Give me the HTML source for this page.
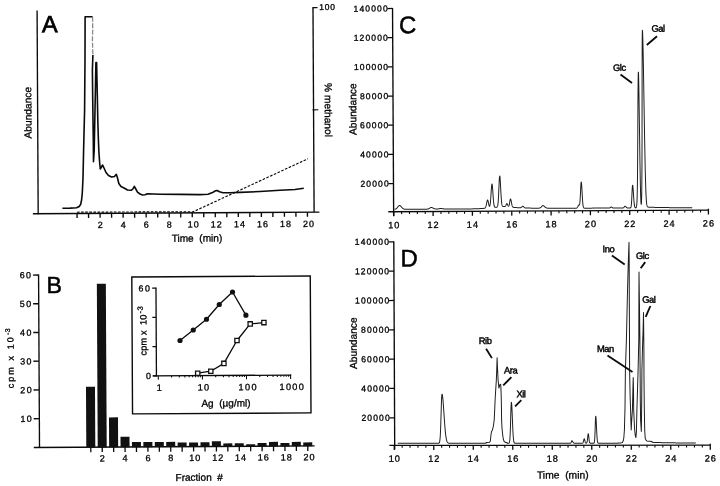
<!DOCTYPE html>
<html><head><meta charset="utf-8"><style>
html,body{margin:0;padding:0;background:#fff;overflow:hidden;}
svg{display:block;will-change:transform;}
text{font-family:"Liberation Sans",sans-serif;fill:#000;stroke:#000;}
</style></head><body>
<svg width="720" height="486" viewBox="0 0 720 486">
<rect width="720" height="486" fill="#fff"/>
<g transform="rotate(-0.31 360 243)">
<line x1="38.35" y1="8.76" x2="38.35" y2="212.55" stroke="#0a0a0a" stroke-width="1.35" />
<line x1="33.06" y1="211.95" x2="319.57" y2="211.95" stroke="#0a0a0a" stroke-width="1.35" />
<line x1="314.27" y1="7.15" x2="314.27" y2="211.95" stroke="#0a0a0a" stroke-width="1.35" />
<line x1="313.77" y1="7.35" x2="318.77" y2="7.35" stroke="#0a0a0a" stroke-width="1.2" />
<line x1="313.27" y1="109.55" x2="319.07" y2="109.55" stroke="#0a0a0a" stroke-width="1.2" />
<line x1="77.20" y1="211.95" x2="77.20" y2="216.45" stroke="#0a0a0a" stroke-width="1.35" />
<line x1="88.72" y1="211.95" x2="88.72" y2="216.45" stroke="#0a0a0a" stroke-width="1.35" />
<line x1="100.24" y1="211.95" x2="100.24" y2="216.45" stroke="#0a0a0a" stroke-width="1.35" />
<line x1="111.76" y1="211.95" x2="111.76" y2="216.45" stroke="#0a0a0a" stroke-width="1.35" />
<line x1="123.28" y1="211.95" x2="123.28" y2="216.45" stroke="#0a0a0a" stroke-width="1.35" />
<line x1="134.80" y1="211.95" x2="134.80" y2="216.45" stroke="#0a0a0a" stroke-width="1.35" />
<line x1="146.32" y1="211.95" x2="146.32" y2="216.45" stroke="#0a0a0a" stroke-width="1.35" />
<line x1="157.84" y1="211.95" x2="157.84" y2="216.45" stroke="#0a0a0a" stroke-width="1.35" />
<line x1="169.36" y1="211.95" x2="169.36" y2="216.45" stroke="#0a0a0a" stroke-width="1.35" />
<line x1="180.88" y1="211.95" x2="180.88" y2="216.45" stroke="#0a0a0a" stroke-width="1.35" />
<line x1="192.40" y1="211.95" x2="192.40" y2="216.45" stroke="#0a0a0a" stroke-width="1.35" />
<line x1="203.92" y1="211.95" x2="203.92" y2="216.45" stroke="#0a0a0a" stroke-width="1.35" />
<line x1="215.44" y1="211.95" x2="215.44" y2="216.45" stroke="#0a0a0a" stroke-width="1.35" />
<line x1="226.96" y1="211.95" x2="226.96" y2="216.45" stroke="#0a0a0a" stroke-width="1.35" />
<line x1="238.48" y1="211.95" x2="238.48" y2="216.45" stroke="#0a0a0a" stroke-width="1.35" />
<line x1="250.00" y1="211.95" x2="250.00" y2="216.45" stroke="#0a0a0a" stroke-width="1.35" />
<line x1="261.52" y1="211.95" x2="261.52" y2="216.45" stroke="#0a0a0a" stroke-width="1.35" />
<line x1="273.04" y1="211.95" x2="273.04" y2="216.45" stroke="#0a0a0a" stroke-width="1.35" />
<line x1="284.56" y1="211.95" x2="284.56" y2="216.45" stroke="#0a0a0a" stroke-width="1.35" />
<line x1="296.08" y1="211.95" x2="296.08" y2="216.45" stroke="#0a0a0a" stroke-width="1.35" />
<line x1="307.60" y1="211.95" x2="307.60" y2="216.45" stroke="#0a0a0a" stroke-width="1.35" />
<text x="100.74" y="226.65" font-size="9.0" text-anchor="middle" letter-spacing="1.0" stroke-width="0.3" >2</text>
<text x="123.78" y="226.65" font-size="9.0" text-anchor="middle" letter-spacing="1.0" stroke-width="0.3" >4</text>
<text x="146.82" y="226.65" font-size="9.0" text-anchor="middle" letter-spacing="1.0" stroke-width="0.3" >6</text>
<text x="169.86" y="226.65" font-size="9.0" text-anchor="middle" letter-spacing="1.0" stroke-width="0.3" >8</text>
<text x="193.90" y="226.65" font-size="9.0" text-anchor="middle" letter-spacing="1.0" stroke-width="0.3" >10</text>
<text x="216.94" y="226.65" font-size="9.0" text-anchor="middle" letter-spacing="1.0" stroke-width="0.3" >12</text>
<text x="239.98" y="226.65" font-size="9.0" text-anchor="middle" letter-spacing="1.0" stroke-width="0.3" >14</text>
<text x="263.02" y="226.65" font-size="9.0" text-anchor="middle" letter-spacing="1.0" stroke-width="0.3" >16</text>
<text x="286.06" y="226.65" font-size="9.0" text-anchor="middle" letter-spacing="1.0" stroke-width="0.3" >18</text>
<text x="309.10" y="226.65" font-size="9.0" text-anchor="middle" letter-spacing="1.0" stroke-width="0.3" >20</text>
<text x="197.03" y="240.75" font-size="10.1" text-anchor="middle" stroke-width="0.3" >Time&#160;&#160;(min)</text>
<text x="328.66" y="9.73" font-size="8.5" text-anchor="middle" letter-spacing="0.75" stroke-width="0.3" >100</text>
<text transform="translate(32.11,110.92) rotate(-90)" font-size="10.2" text-anchor="middle" stroke-width="0.3">Abundance</text>
<text transform="translate(325.52,109.81) rotate(90)" font-size="10.2" text-anchor="middle" stroke-width="0.3">%&#160;methanol</text>
<text x="43.05" y="30.48" font-size="23.5" text-anchor="start" stroke-width="0.75" >A</text>
<path d="M77.17,210.67 L193.47,210.80 L308.46,158.42" fill="none" stroke="#0a0a0a" stroke-width="1.15" stroke-linejoin="round" stroke-dasharray="2.6,1.5"/>
<path d="M62.59,206.59 L70.19,206.53 L76.79,206.27 L79.40,204.98 L80.81,202.99 L81.84,198.49 L82.57,191.50 L83.36,176.50 L84.11,148.51 L85.32,108.51 L85.99,58.51 L86.33,15.32 L93.83,15.36" fill="none" stroke="#0a0a0a" stroke-width="1.6" stroke-linejoin="round" />
<path d="M93.83,15.36 L93.86,28.56 L93.50,38.56 L93.92,53.56" fill="none" stroke="#8a8a8a" stroke-width="1.3" stroke-linejoin="round" stroke-dasharray="5,1.5"/>
<path d="M93.92,53.56 L93.34,68.55 L93.43,88.56 L93.67,118.56 L93.86,138.56 L93.94,160.26 L94.71,148.56 L95.47,118.57 L96.23,88.57 L96.88,61.07 L97.58,61.08 L98.10,93.58 L98.47,118.58 L98.96,138.59 L99.40,150.59 L100.04,160.59 L100.70,167.60 L101.91,165.60 L103.03,163.61 L104.41,166.62 L106.39,171.13 L108.87,174.14 L111.86,175.66 L114.86,175.17 L116.68,172.98 L117.86,176.69 L119.13,182.20 L121.31,185.21 L124.30,186.72 L127.79,188.74 L131.79,188.96 L133.50,187.27 L134.61,185.08 L135.80,187.29 L137.78,191.00 L140.27,192.81 L142.76,193.82 L145.26,193.64 L147.77,192.65 L160.27,193.12 L180.27,193.43 L200.26,193.74 L208.27,193.38 L212.77,191.80 L215.78,190.02 L217.49,189.73 L219.78,191.04 L223.27,191.96 L230.27,192.00 L240.28,191.75 L260.28,190.96 L280.29,189.87 L295.29,189.15 L304.10,187.90" fill="none" stroke="#0a0a0a" stroke-width="1.6" stroke-linejoin="round" />
<line x1="38.40" y1="272.76" x2="38.40" y2="446.20" stroke="#0a0a0a" stroke-width="1.35" />
<line x1="32.70" y1="445.70" x2="313.50" y2="445.70" stroke="#0a0a0a" stroke-width="1.35" />
<line x1="32.80" y1="416.96" x2="38.40" y2="416.96" stroke="#0a0a0a" stroke-width="1.3" />
<text x="32.30" y="420.06" font-size="8.9" text-anchor="end" letter-spacing="1.45" stroke-width="0.3" >10</text>
<line x1="32.80" y1="388.22" x2="38.40" y2="388.22" stroke="#0a0a0a" stroke-width="1.3" />
<text x="32.30" y="391.32" font-size="8.9" text-anchor="end" letter-spacing="1.45" stroke-width="0.3" >20</text>
<line x1="32.80" y1="359.48" x2="38.40" y2="359.48" stroke="#0a0a0a" stroke-width="1.3" />
<text x="32.30" y="362.58" font-size="8.9" text-anchor="end" letter-spacing="1.45" stroke-width="0.3" >30</text>
<line x1="32.80" y1="330.74" x2="38.40" y2="330.74" stroke="#0a0a0a" stroke-width="1.3" />
<text x="32.30" y="333.84" font-size="8.9" text-anchor="end" letter-spacing="1.45" stroke-width="0.3" >40</text>
<line x1="32.80" y1="302.00" x2="38.40" y2="302.00" stroke="#0a0a0a" stroke-width="1.3" />
<text x="32.30" y="305.10" font-size="8.9" text-anchor="end" letter-spacing="1.45" stroke-width="0.3" >50</text>
<line x1="32.80" y1="273.26" x2="38.40" y2="273.26" stroke="#0a0a0a" stroke-width="1.3" />
<text x="32.30" y="276.36" font-size="8.9" text-anchor="end" letter-spacing="1.45" stroke-width="0.3" >60</text>
<rect x="85.20" y="385.24" width="9.0" height="60.76" fill="#111"/>
<rect x="96.62" y="282.30" width="9.0" height="163.70" fill="#111"/>
<rect x="108.04" y="416.06" width="9.0" height="29.94" fill="#111"/>
<rect x="119.46" y="435.42" width="9.0" height="10.58" fill="#111"/>
<rect x="130.88" y="440.88" width="9.0" height="5.12" fill="#111"/>
<rect x="142.30" y="440.94" width="9.0" height="5.06" fill="#111"/>
<rect x="153.72" y="441.01" width="9.0" height="4.99" fill="#111"/>
<rect x="165.14" y="440.87" width="9.0" height="5.13" fill="#111"/>
<rect x="176.56" y="441.53" width="9.0" height="4.47" fill="#111"/>
<rect x="187.98" y="441.59" width="9.0" height="4.41" fill="#111"/>
<rect x="199.40" y="441.35" width="9.0" height="4.65" fill="#111"/>
<rect x="210.82" y="440.41" width="9.0" height="5.59" fill="#111"/>
<rect x="222.24" y="442.68" width="9.0" height="3.32" fill="#111"/>
<rect x="233.66" y="442.54" width="9.0" height="3.46" fill="#111"/>
<rect x="245.08" y="443.60" width="9.0" height="2.40" fill="#111"/>
<rect x="256.50" y="442.56" width="9.0" height="3.44" fill="#111"/>
<rect x="267.92" y="441.42" width="9.0" height="4.58" fill="#111"/>
<rect x="279.34" y="442.69" width="9.0" height="3.31" fill="#111"/>
<rect x="290.76" y="441.55" width="9.0" height="4.45" fill="#111"/>
<rect x="302.18" y="442.11" width="9.0" height="3.89" fill="#111"/>
<line x1="89.70" y1="445.70" x2="89.70" y2="450.70" stroke="#0a0a0a" stroke-width="1.3" />
<line x1="101.12" y1="445.70" x2="101.12" y2="450.70" stroke="#0a0a0a" stroke-width="1.3" />
<line x1="112.54" y1="445.70" x2="112.54" y2="450.70" stroke="#0a0a0a" stroke-width="1.3" />
<line x1="123.96" y1="445.70" x2="123.96" y2="450.70" stroke="#0a0a0a" stroke-width="1.3" />
<line x1="135.38" y1="445.70" x2="135.38" y2="450.70" stroke="#0a0a0a" stroke-width="1.3" />
<line x1="146.80" y1="445.70" x2="146.80" y2="450.70" stroke="#0a0a0a" stroke-width="1.3" />
<line x1="158.22" y1="445.70" x2="158.22" y2="450.70" stroke="#0a0a0a" stroke-width="1.3" />
<line x1="169.64" y1="445.70" x2="169.64" y2="450.70" stroke="#0a0a0a" stroke-width="1.3" />
<line x1="181.06" y1="445.70" x2="181.06" y2="450.70" stroke="#0a0a0a" stroke-width="1.3" />
<line x1="192.48" y1="445.70" x2="192.48" y2="450.70" stroke="#0a0a0a" stroke-width="1.3" />
<line x1="203.90" y1="445.70" x2="203.90" y2="450.70" stroke="#0a0a0a" stroke-width="1.3" />
<line x1="215.32" y1="445.70" x2="215.32" y2="450.70" stroke="#0a0a0a" stroke-width="1.3" />
<line x1="226.74" y1="445.70" x2="226.74" y2="450.70" stroke="#0a0a0a" stroke-width="1.3" />
<line x1="238.16" y1="445.70" x2="238.16" y2="450.70" stroke="#0a0a0a" stroke-width="1.3" />
<line x1="249.58" y1="445.70" x2="249.58" y2="450.70" stroke="#0a0a0a" stroke-width="1.3" />
<line x1="261.00" y1="445.70" x2="261.00" y2="450.70" stroke="#0a0a0a" stroke-width="1.3" />
<line x1="272.42" y1="445.70" x2="272.42" y2="450.70" stroke="#0a0a0a" stroke-width="1.3" />
<line x1="283.84" y1="445.70" x2="283.84" y2="450.70" stroke="#0a0a0a" stroke-width="1.3" />
<line x1="295.26" y1="445.70" x2="295.26" y2="450.70" stroke="#0a0a0a" stroke-width="1.3" />
<line x1="306.68" y1="445.70" x2="306.68" y2="450.70" stroke="#0a0a0a" stroke-width="1.3" />
<text x="101.62" y="460.00" font-size="9.1" text-anchor="middle" letter-spacing="1.0" stroke-width="0.3" >2</text>
<text x="124.46" y="460.00" font-size="9.1" text-anchor="middle" letter-spacing="1.0" stroke-width="0.3" >4</text>
<text x="147.30" y="460.00" font-size="9.1" text-anchor="middle" letter-spacing="1.0" stroke-width="0.3" >6</text>
<text x="170.14" y="460.00" font-size="9.1" text-anchor="middle" letter-spacing="1.0" stroke-width="0.3" >8</text>
<text x="194.18" y="460.00" font-size="9.1" text-anchor="middle" letter-spacing="1.0" stroke-width="0.3" >10</text>
<text x="217.02" y="460.00" font-size="9.1" text-anchor="middle" letter-spacing="1.0" stroke-width="0.3" >12</text>
<text x="239.86" y="460.00" font-size="9.1" text-anchor="middle" letter-spacing="1.0" stroke-width="0.3" >14</text>
<text x="262.70" y="460.00" font-size="9.1" text-anchor="middle" letter-spacing="1.0" stroke-width="0.3" >16</text>
<text x="285.54" y="460.00" font-size="9.1" text-anchor="middle" letter-spacing="1.0" stroke-width="0.3" >18</text>
<text x="308.38" y="460.00" font-size="9.1" text-anchor="middle" letter-spacing="1.0" stroke-width="0.3" >20</text>
<text x="197.92" y="479.93" font-size="10.0" text-anchor="middle" stroke-width="0.3" >Fraction&#160;&#160;#</text>
<text x="46.33" y="291.30" font-size="23.2" text-anchor="start" stroke-width="0.5" >B</text>
<text transform="translate(13.08,356.32) rotate(-90)" font-size="9" text-anchor="middle" letter-spacing="2.1" stroke-width="0.3">cpm x 10<tspan font-size="7" dy="-3.6" letter-spacing="0.4">-3</tspan></text>
<rect x="131.62" y="275.76" width="178.46" height="136.87" fill="#fff" stroke="#0a0a0a" stroke-width="1.4"/>
<line x1="155.73" y1="286.48" x2="155.73" y2="375.33" stroke="#0a0a0a" stroke-width="1.3" />
<line x1="151.93" y1="374.73" x2="155.73" y2="374.73" stroke="#0a0a0a" stroke-width="1.25" />
<line x1="151.93" y1="345.48" x2="155.73" y2="345.48" stroke="#0a0a0a" stroke-width="1.25" />
<line x1="151.93" y1="316.23" x2="155.73" y2="316.23" stroke="#0a0a0a" stroke-width="1.25" />
<line x1="151.93" y1="286.98" x2="155.73" y2="286.98" stroke="#0a0a0a" stroke-width="1.25" />
<text x="151.13" y="290.28" font-size="8.9" text-anchor="end" letter-spacing="1.5" stroke-width="0.3" >60</text>
<text x="150.33" y="377.93" font-size="8.9" text-anchor="end" stroke-width="0.3" >0</text>
<line x1="152.23" y1="374.73" x2="290.48" y2="374.73" stroke="#0a0a0a" stroke-width="1.35" />
<line x1="157.58" y1="374.73" x2="157.58" y2="378.63" stroke="#0a0a0a" stroke-width="1.05" />
<line x1="170.86" y1="374.73" x2="170.86" y2="376.43" stroke="#0a0a0a" stroke-width="1.05" />
<line x1="178.62" y1="374.73" x2="178.62" y2="376.43" stroke="#0a0a0a" stroke-width="1.05" />
<line x1="184.13" y1="374.73" x2="184.13" y2="376.43" stroke="#0a0a0a" stroke-width="1.05" />
<line x1="188.41" y1="374.73" x2="188.41" y2="376.43" stroke="#0a0a0a" stroke-width="1.05" />
<line x1="191.90" y1="374.73" x2="191.90" y2="376.43" stroke="#0a0a0a" stroke-width="1.05" />
<line x1="194.85" y1="374.73" x2="194.85" y2="376.43" stroke="#0a0a0a" stroke-width="1.05" />
<line x1="197.41" y1="374.73" x2="197.41" y2="376.43" stroke="#0a0a0a" stroke-width="1.05" />
<line x1="199.67" y1="374.73" x2="199.67" y2="376.43" stroke="#0a0a0a" stroke-width="1.05" />
<line x1="201.68" y1="374.73" x2="201.68" y2="378.63" stroke="#0a0a0a" stroke-width="1.05" />
<line x1="214.96" y1="374.73" x2="214.96" y2="376.43" stroke="#0a0a0a" stroke-width="1.05" />
<line x1="222.72" y1="374.73" x2="222.72" y2="376.43" stroke="#0a0a0a" stroke-width="1.05" />
<line x1="228.23" y1="374.73" x2="228.23" y2="376.43" stroke="#0a0a0a" stroke-width="1.05" />
<line x1="232.51" y1="374.73" x2="232.51" y2="376.43" stroke="#0a0a0a" stroke-width="1.05" />
<line x1="236.00" y1="374.73" x2="236.00" y2="376.43" stroke="#0a0a0a" stroke-width="1.05" />
<line x1="238.95" y1="374.73" x2="238.95" y2="376.43" stroke="#0a0a0a" stroke-width="1.05" />
<line x1="241.51" y1="374.73" x2="241.51" y2="376.43" stroke="#0a0a0a" stroke-width="1.05" />
<line x1="243.77" y1="374.73" x2="243.77" y2="376.43" stroke="#0a0a0a" stroke-width="1.05" />
<line x1="245.78" y1="374.73" x2="245.78" y2="378.63" stroke="#0a0a0a" stroke-width="1.05" />
<line x1="259.06" y1="374.73" x2="259.06" y2="376.43" stroke="#0a0a0a" stroke-width="1.05" />
<line x1="266.82" y1="374.73" x2="266.82" y2="376.43" stroke="#0a0a0a" stroke-width="1.05" />
<line x1="272.33" y1="374.73" x2="272.33" y2="376.43" stroke="#0a0a0a" stroke-width="1.05" />
<line x1="276.61" y1="374.73" x2="276.61" y2="376.43" stroke="#0a0a0a" stroke-width="1.05" />
<line x1="280.10" y1="374.73" x2="280.10" y2="376.43" stroke="#0a0a0a" stroke-width="1.05" />
<line x1="283.05" y1="374.73" x2="283.05" y2="376.43" stroke="#0a0a0a" stroke-width="1.05" />
<line x1="285.61" y1="374.73" x2="285.61" y2="376.43" stroke="#0a0a0a" stroke-width="1.05" />
<line x1="287.87" y1="374.73" x2="287.87" y2="376.43" stroke="#0a0a0a" stroke-width="1.05" />
<line x1="289.88" y1="374.23" x2="289.88" y2="378.63" stroke="#0a0a0a" stroke-width="1.05" />
<text x="159.23" y="389.63" font-size="9.2" text-anchor="middle" letter-spacing="1.3" stroke-width="0.3" >1</text>
<text x="203.33" y="389.63" font-size="9.2" text-anchor="middle" letter-spacing="1.3" stroke-width="0.3" >10</text>
<text x="247.43" y="389.63" font-size="9.2" text-anchor="middle" letter-spacing="1.3" stroke-width="0.3" >100</text>
<text x="291.53" y="389.63" font-size="9.2" text-anchor="middle" letter-spacing="1.3" stroke-width="0.3" >1000</text>
<text x="225.12" y="405.87" font-size="10.0" text-anchor="middle" stroke-width="0.3" >Ag&#160;&#160;(&#181;g/ml)</text>
<text transform="translate(145.99,354.44) rotate(-90)" font-size="9.2" text-anchor="start" letter-spacing="0.15" stroke-width="0.3">cpm&#160;x&#160;&#160;10<tspan font-size="7.6" dx="0.9" dy="-3.7" letter-spacing="0.4">-3</tspan></text>
<path d="M179.48,339.52 L192.78,329.10 L206.09,318.42 L218.92,303.74 L232.24,291.31 L245.51,314.58" fill="none" stroke="#0a0a0a" stroke-width="1.3" stroke-linejoin="round" />
<path d="M197.00,372.32 L210.11,370.39 L223.25,362.66 L236.47,339.83 L249.76,323.30 L263.47,322.08" fill="none" stroke="#0a0a0a" stroke-width="1.3" stroke-linejoin="round" />
<circle cx="179.48" cy="339.52" r="2.6" fill="#111"/>
<circle cx="192.78" cy="329.10" r="2.6" fill="#111"/>
<circle cx="206.09" cy="318.42" r="2.6" fill="#111"/>
<circle cx="218.92" cy="303.74" r="2.6" fill="#111"/>
<circle cx="232.24" cy="291.31" r="2.6" fill="#111"/>
<circle cx="245.51" cy="314.58" r="2.6" fill="#111"/>
<rect x="194.85" y="370.17" width="4.3" height="4.3" fill="#fff" stroke="#111" stroke-width="1.3"/>
<rect x="207.96" y="368.24" width="4.3" height="4.3" fill="#fff" stroke="#111" stroke-width="1.3"/>
<rect x="221.10" y="360.51" width="4.3" height="4.3" fill="#fff" stroke="#111" stroke-width="1.3"/>
<rect x="234.32" y="337.68" width="4.3" height="4.3" fill="#fff" stroke="#111" stroke-width="1.3"/>
<rect x="247.61" y="321.15" width="4.3" height="4.3" fill="#fff" stroke="#111" stroke-width="1.3"/>
<rect x="261.32" y="319.93" width="4.3" height="4.3" fill="#fff" stroke="#111" stroke-width="1.3"/>
<line x1="393.80" y1="8.07" x2="393.80" y2="216.15" stroke="#0a0a0a" stroke-width="1.35" />
<line x1="388.50" y1="211.95" x2="709.18" y2="211.95" stroke="#0a0a0a" stroke-width="1.35" />
<line x1="388.70" y1="183.75" x2="393.80" y2="183.75" stroke="#0a0a0a" stroke-width="1.25" />
<text x="390.10" y="186.75" font-size="8.6" text-anchor="end" letter-spacing="1.1" stroke-width="0.3" >20000</text>
<line x1="388.70" y1="154.57" x2="393.80" y2="154.57" stroke="#0a0a0a" stroke-width="1.25" />
<text x="390.10" y="157.57" font-size="8.6" text-anchor="end" letter-spacing="1.1" stroke-width="0.3" >40000</text>
<line x1="388.70" y1="125.39" x2="393.80" y2="125.39" stroke="#0a0a0a" stroke-width="1.25" />
<text x="390.10" y="128.39" font-size="8.6" text-anchor="end" letter-spacing="1.1" stroke-width="0.3" >60000</text>
<line x1="388.70" y1="96.21" x2="393.80" y2="96.21" stroke="#0a0a0a" stroke-width="1.25" />
<text x="390.10" y="99.21" font-size="8.6" text-anchor="end" letter-spacing="1.1" stroke-width="0.3" >80000</text>
<line x1="388.70" y1="67.03" x2="393.80" y2="67.03" stroke="#0a0a0a" stroke-width="1.25" />
<text x="390.10" y="70.03" font-size="8.6" text-anchor="end" letter-spacing="1.1" stroke-width="0.3" >100000</text>
<line x1="388.70" y1="37.85" x2="393.80" y2="37.85" stroke="#0a0a0a" stroke-width="1.25" />
<text x="390.10" y="40.85" font-size="8.6" text-anchor="end" letter-spacing="1.1" stroke-width="0.3" >120000</text>
<line x1="388.70" y1="8.67" x2="393.80" y2="8.67" stroke="#0a0a0a" stroke-width="1.25" />
<text x="390.10" y="11.67" font-size="8.6" text-anchor="end" letter-spacing="1.1" stroke-width="0.3" >140000</text>
<line x1="393.92" y1="211.95" x2="393.92" y2="216.45" stroke="#0a0a0a" stroke-width="1.3" />
<line x1="401.79" y1="211.95" x2="401.79" y2="214.35" stroke="#0a0a0a" stroke-width="1.1" />
<line x1="409.65" y1="211.95" x2="409.65" y2="214.35" stroke="#0a0a0a" stroke-width="1.1" />
<line x1="417.52" y1="211.95" x2="417.52" y2="214.35" stroke="#0a0a0a" stroke-width="1.1" />
<line x1="425.39" y1="211.95" x2="425.39" y2="214.35" stroke="#0a0a0a" stroke-width="1.1" />
<line x1="433.25" y1="211.95" x2="433.25" y2="216.45" stroke="#0a0a0a" stroke-width="1.3" />
<line x1="441.12" y1="211.95" x2="441.12" y2="214.35" stroke="#0a0a0a" stroke-width="1.1" />
<line x1="448.98" y1="211.95" x2="448.98" y2="214.35" stroke="#0a0a0a" stroke-width="1.1" />
<line x1="456.85" y1="211.95" x2="456.85" y2="214.35" stroke="#0a0a0a" stroke-width="1.1" />
<line x1="464.72" y1="211.95" x2="464.72" y2="214.35" stroke="#0a0a0a" stroke-width="1.1" />
<line x1="472.58" y1="211.95" x2="472.58" y2="216.45" stroke="#0a0a0a" stroke-width="1.3" />
<line x1="480.45" y1="211.95" x2="480.45" y2="214.35" stroke="#0a0a0a" stroke-width="1.1" />
<line x1="488.32" y1="211.95" x2="488.32" y2="214.35" stroke="#0a0a0a" stroke-width="1.1" />
<line x1="496.18" y1="211.95" x2="496.18" y2="214.35" stroke="#0a0a0a" stroke-width="1.1" />
<line x1="504.05" y1="211.95" x2="504.05" y2="214.35" stroke="#0a0a0a" stroke-width="1.1" />
<line x1="511.92" y1="211.95" x2="511.92" y2="216.45" stroke="#0a0a0a" stroke-width="1.3" />
<line x1="519.78" y1="211.95" x2="519.78" y2="214.35" stroke="#0a0a0a" stroke-width="1.1" />
<line x1="527.65" y1="211.95" x2="527.65" y2="214.35" stroke="#0a0a0a" stroke-width="1.1" />
<line x1="535.52" y1="211.95" x2="535.52" y2="214.35" stroke="#0a0a0a" stroke-width="1.1" />
<line x1="543.38" y1="211.95" x2="543.38" y2="214.35" stroke="#0a0a0a" stroke-width="1.1" />
<line x1="551.25" y1="211.95" x2="551.25" y2="216.45" stroke="#0a0a0a" stroke-width="1.3" />
<line x1="559.11" y1="211.95" x2="559.11" y2="214.35" stroke="#0a0a0a" stroke-width="1.1" />
<line x1="566.98" y1="211.95" x2="566.98" y2="214.35" stroke="#0a0a0a" stroke-width="1.1" />
<line x1="574.85" y1="211.95" x2="574.85" y2="214.35" stroke="#0a0a0a" stroke-width="1.1" />
<line x1="582.71" y1="211.95" x2="582.71" y2="214.35" stroke="#0a0a0a" stroke-width="1.1" />
<line x1="590.58" y1="211.95" x2="590.58" y2="216.45" stroke="#0a0a0a" stroke-width="1.3" />
<line x1="598.45" y1="211.95" x2="598.45" y2="214.35" stroke="#0a0a0a" stroke-width="1.1" />
<line x1="606.31" y1="211.95" x2="606.31" y2="214.35" stroke="#0a0a0a" stroke-width="1.1" />
<line x1="614.18" y1="211.95" x2="614.18" y2="214.35" stroke="#0a0a0a" stroke-width="1.1" />
<line x1="622.05" y1="211.95" x2="622.05" y2="214.35" stroke="#0a0a0a" stroke-width="1.1" />
<line x1="629.91" y1="211.95" x2="629.91" y2="216.45" stroke="#0a0a0a" stroke-width="1.3" />
<line x1="637.78" y1="211.95" x2="637.78" y2="214.35" stroke="#0a0a0a" stroke-width="1.1" />
<line x1="645.64" y1="211.95" x2="645.64" y2="214.35" stroke="#0a0a0a" stroke-width="1.1" />
<line x1="653.51" y1="211.95" x2="653.51" y2="214.35" stroke="#0a0a0a" stroke-width="1.1" />
<line x1="661.38" y1="211.95" x2="661.38" y2="214.35" stroke="#0a0a0a" stroke-width="1.1" />
<line x1="669.24" y1="211.95" x2="669.24" y2="216.45" stroke="#0a0a0a" stroke-width="1.3" />
<line x1="677.11" y1="211.95" x2="677.11" y2="214.35" stroke="#0a0a0a" stroke-width="1.1" />
<line x1="684.98" y1="211.95" x2="684.98" y2="214.35" stroke="#0a0a0a" stroke-width="1.1" />
<line x1="692.84" y1="211.95" x2="692.84" y2="214.35" stroke="#0a0a0a" stroke-width="1.1" />
<line x1="700.71" y1="211.95" x2="700.71" y2="214.35" stroke="#0a0a0a" stroke-width="1.1" />
<line x1="708.58" y1="211.95" x2="708.58" y2="216.45" stroke="#0a0a0a" stroke-width="1.3" />
<line x1="708.58" y1="211.95" x2="708.58" y2="210.55" stroke="#0a0a0a" stroke-width="1.3" />
<text x="394.37" y="228.35" font-size="9.2" text-anchor="middle" letter-spacing="1.0" stroke-width="0.3" >10</text>
<text x="433.70" y="228.35" font-size="9.2" text-anchor="middle" letter-spacing="1.0" stroke-width="0.3" >12</text>
<text x="473.03" y="228.35" font-size="9.2" text-anchor="middle" letter-spacing="1.0" stroke-width="0.3" >14</text>
<text x="512.37" y="228.35" font-size="9.2" text-anchor="middle" letter-spacing="1.0" stroke-width="0.3" >16</text>
<text x="551.70" y="228.35" font-size="9.2" text-anchor="middle" letter-spacing="1.0" stroke-width="0.3" >18</text>
<text x="591.03" y="228.35" font-size="9.2" text-anchor="middle" letter-spacing="1.0" stroke-width="0.3" >20</text>
<text x="630.36" y="228.35" font-size="9.2" text-anchor="middle" letter-spacing="1.0" stroke-width="0.3" >22</text>
<text x="669.69" y="228.35" font-size="9.2" text-anchor="middle" letter-spacing="1.0" stroke-width="0.3" >24</text>
<text x="709.03" y="228.35" font-size="9.2" text-anchor="middle" letter-spacing="1.0" stroke-width="0.3" >26</text>
<text transform="translate(357.02,109.18) rotate(-90)" font-size="10.2" text-anchor="middle" stroke-width="0.3">Abundance</text>
<text x="400.23" y="33.51" font-size="24" text-anchor="start" stroke-width="0.5" >C</text>
<path d="M394.71,209.48 L394.80,209.47 L394.90,209.45 L395.00,209.44 L395.10,209.42 L395.20,209.40 L395.30,209.38 L395.39,209.35 L395.49,209.32 L395.59,209.29 L395.69,209.26 L395.79,209.22 L395.89,209.17 L395.98,209.13 L396.08,209.08 L396.18,209.02 L396.28,208.96 L396.38,208.89 L396.48,208.82 L396.57,208.74 L396.67,208.66 L396.77,208.58 L396.87,208.48 L396.97,208.39 L397.07,208.28 L397.16,208.18 L397.26,208.07 L397.36,207.95 L397.46,207.83 L397.56,207.71 L397.66,207.58 L397.75,207.46 L397.85,207.33 L397.95,207.20 L398.05,207.07 L398.15,206.94 L398.25,206.82 L398.34,206.69 L398.44,206.57 L398.54,206.46 L398.64,206.35 L398.74,206.24 L398.84,206.15 L398.93,206.06 L399.03,205.98 L399.13,205.91 L399.23,205.85 L399.33,205.80 L399.43,205.76 L399.52,205.73 L399.62,205.72 L399.72,205.71 L399.82,205.72 L399.92,205.74 L400.02,205.76 L400.11,205.80 L400.21,205.84 L400.31,205.89 L400.41,205.95 L400.51,206.02 L400.61,206.10 L400.70,206.18 L400.80,206.27 L400.90,206.36 L401.00,206.46 L401.10,206.57 L401.20,206.68 L401.29,206.79 L401.39,206.90 L401.49,207.01 L401.59,207.13 L401.69,207.25 L401.79,207.36 L401.88,207.48 L401.98,207.59 L402.08,207.70 L402.18,207.82 L402.28,207.92 L402.38,208.03 L402.47,208.13 L402.57,208.23 L402.67,208.32 L402.77,208.41 L402.87,208.50 L402.97,208.58 L403.06,208.66 L403.16,208.73 L403.26,208.80 L403.36,208.87 L403.46,208.93 L403.56,208.99 L403.65,209.04 L403.75,209.09 L403.85,209.14 L403.95,209.18 L404.05,209.22 L404.15,209.25 L404.24,209.28 L404.34,209.31 L404.44,209.34 L404.54,209.36 L404.64,209.39 L404.74,209.41 L404.83,209.42 L404.93,209.44 L405.03,209.45 L405.13,209.46 L405.23,209.48 L405.33,209.49 L405.42,209.49 L405.52,209.50 L405.62,209.51 L405.72,209.51 L405.82,209.52 L405.92,209.52 L406.01,209.53 L406.11,209.53 L406.21,209.53 L406.31,209.54 L406.41,209.54 L406.51,209.54 L406.60,209.54 L406.70,209.54 L406.80,209.54 L406.90,209.55 L407.00,209.55 L407.10,209.55 L407.19,209.55 L407.29,209.55 L407.39,209.55 L407.49,209.55 L407.59,209.55 L407.69,209.55 L407.78,209.55 L407.88,209.55 L407.98,209.55 L408.08,209.55 L408.18,209.55 L408.28,209.55 L408.37,209.55 L408.47,209.55 L408.57,209.55 L408.67,209.55 L408.77,209.55 L408.87,209.55 L408.96,209.55 L409.06,209.55 L409.16,209.55 L409.26,209.55 L409.36,209.55 L409.46,209.55 L409.55,209.55 L409.65,209.55 L409.75,209.55 L409.85,209.55 L409.95,209.55 L410.05,209.55 L410.14,209.55 L410.24,209.55 L410.34,209.55 L410.44,209.55 L410.54,209.55 L410.64,209.55 L410.73,209.55 L410.83,209.55 L410.93,209.55 L411.03,209.55 L411.13,209.55 L411.23,209.55 L411.32,209.55 L411.42,209.55 L411.52,209.55 L411.62,209.55 L411.72,209.55 L411.82,209.55 L411.91,209.55 L412.01,209.55 L412.11,209.55 L412.21,209.55 L412.31,209.55 L412.41,209.55 L412.50,209.55 L412.60,209.55 L412.70,209.55 L412.80,209.55 L412.90,209.55 L413.00,209.55 L413.09,209.55 L413.19,209.55 L413.29,209.55 L413.39,209.55 L413.49,209.55 L413.59,209.55 L413.68,209.55 L413.78,209.55 L413.88,209.55 L413.98,209.55 L414.08,209.55 L414.18,209.55 L414.27,209.55 L414.37,209.55 L414.47,209.55 L414.57,209.55 L414.67,209.55 L414.77,209.55 L414.86,209.55 L414.96,209.55 L415.06,209.55 L415.16,209.55 L415.26,209.55 L415.36,209.55 L415.45,209.55 L415.55,209.55 L415.65,209.55 L415.75,209.55 L415.85,209.55 L415.95,209.55 L416.04,209.55 L416.14,209.55 L416.24,209.55 L416.34,209.55 L416.44,209.55 L416.54,209.55 L416.63,209.55 L416.73,209.55 L416.83,209.55 L416.93,209.55 L417.03,209.55 L417.13,209.55 L417.22,209.55 L417.32,209.55 L417.42,209.55 L417.52,209.55 L417.62,209.55 L417.72,209.55 L417.81,209.55 L417.91,209.55 L418.01,209.55 L418.11,209.55 L418.21,209.55 L418.31,209.55 L418.40,209.55 L418.50,209.55 L418.60,209.55 L418.70,209.55 L418.80,209.55 L418.90,209.55 L418.99,209.55 L419.09,209.55 L419.19,209.55 L419.29,209.55 L419.39,209.55 L419.49,209.55 L419.58,209.55 L419.68,209.55 L419.78,209.55 L419.88,209.55 L419.98,209.55 L420.08,209.55 L420.17,209.55 L420.27,209.55 L420.37,209.55 L420.47,209.55 L420.57,209.55 L420.67,209.55 L420.76,209.55 L420.86,209.55 L420.96,209.55 L421.06,209.55 L421.16,209.55 L421.26,209.55 L421.35,209.55 L421.45,209.55 L421.55,209.55 L421.65,209.55 L421.75,209.55 L421.85,209.55 L421.94,209.55 L422.04,209.55 L422.14,209.55 L422.24,209.55 L422.34,209.55 L422.44,209.55 L422.53,209.55 L422.63,209.55 L422.73,209.55 L422.83,209.55 L422.93,209.55 L423.03,209.55 L423.12,209.55 L423.22,209.55 L423.32,209.55 L423.42,209.55 L423.52,209.55 L423.62,209.55 L423.71,209.55 L423.81,209.55 L423.91,209.55 L424.01,209.55 L424.11,209.55 L424.21,209.55 L424.30,209.55 L424.40,209.55 L424.50,209.55 L424.60,209.55 L424.70,209.55 L424.80,209.55 L424.89,209.55 L424.99,209.55 L425.09,209.55 L425.19,209.55 L425.29,209.55 L425.39,209.55 L425.48,209.55 L425.58,209.55 L425.68,209.55 L425.78,209.55 L425.88,209.55 L425.98,209.55 L426.07,209.55 L426.17,209.54 L426.27,209.54 L426.37,209.54 L426.47,209.54 L426.57,209.54 L426.66,209.53 L426.76,209.53 L426.86,209.53 L426.96,209.52 L427.06,209.52 L427.16,209.51 L427.25,209.50 L427.35,209.49 L427.45,209.48 L427.55,209.47 L427.65,209.46 L427.75,209.44 L427.84,209.43 L427.94,209.41 L428.04,209.39 L428.14,209.37 L428.24,209.34 L428.34,209.31 L428.43,209.28 L428.53,209.25 L428.63,209.21 L428.73,209.17 L428.83,209.13 L428.93,209.09 L429.02,209.04 L429.12,208.99 L429.22,208.94 L429.32,208.88 L429.42,208.82 L429.52,208.76 L429.61,208.70 L429.71,208.64 L429.81,208.58 L429.91,208.51 L430.01,208.45 L430.11,208.39 L430.20,208.33 L430.30,208.27 L430.40,208.21 L430.50,208.16 L430.60,208.11 L430.70,208.06 L430.79,208.02 L430.89,207.98 L430.99,207.95 L431.09,207.93 L431.19,207.91 L431.29,207.89 L431.38,207.89 L431.48,207.89 L431.58,207.89 L431.68,207.90 L431.78,207.91 L431.88,207.93 L431.97,207.95 L432.07,207.97 L432.17,208.00 L432.27,208.03 L432.37,208.06 L432.47,208.10 L432.56,208.14 L432.66,208.18 L432.76,208.22 L432.86,208.27 L432.96,208.31 L433.06,208.36 L433.15,208.41 L433.25,208.46 L433.35,208.51 L433.45,208.56 L433.55,208.61 L433.65,208.66 L433.74,208.71 L433.84,208.76 L433.94,208.81 L434.04,208.85 L434.14,208.90 L434.24,208.94 L434.33,208.98 L434.43,209.02 L434.53,209.06 L434.63,209.10 L434.73,209.13 L434.83,209.17 L434.92,209.20 L435.02,209.23 L435.12,209.26 L435.22,209.28 L435.32,209.30 L435.42,209.33 L435.51,209.34 L435.61,209.36 L435.71,209.38 L435.81,209.39 L435.91,209.41 L436.01,209.42 L436.10,209.43 L436.20,209.43 L436.30,209.44 L436.40,209.45 L436.50,209.45 L436.60,209.45 L436.69,209.46 L436.79,209.46 L436.89,209.45 L436.99,209.45 L437.09,209.45 L437.19,209.45 L437.28,209.44 L437.38,209.43 L437.48,209.43 L437.58,209.42 L437.68,209.41 L437.78,209.40 L437.87,209.39 L437.97,209.38 L438.07,209.36 L438.17,209.35 L438.27,209.34 L438.37,209.32 L438.46,209.31 L438.56,209.29 L438.66,209.27 L438.76,209.26 L438.86,209.24 L438.96,209.22 L439.05,209.20 L439.15,209.19 L439.25,209.17 L439.35,209.15 L439.45,209.13 L439.55,209.11 L439.64,209.10 L439.74,209.08 L439.84,209.06 L439.94,209.05 L440.04,209.03 L440.14,209.02 L440.23,209.01 L440.33,209.00 L440.43,208.99 L440.53,208.98 L440.63,208.97 L440.73,208.96 L440.82,208.96 L440.92,208.95 L441.02,208.95 L441.12,208.95 L441.22,208.95 L441.32,208.95 L441.41,208.96 L441.51,208.96 L441.61,208.97 L441.71,208.98 L441.81,208.99 L441.91,209.00 L442.00,209.01 L442.10,209.02 L442.20,209.03 L442.30,209.05 L442.40,209.06 L442.50,209.08 L442.59,209.10 L442.69,209.11 L442.79,209.13 L442.89,209.15 L442.99,209.17 L443.09,209.19 L443.18,209.20 L443.28,209.22 L443.38,209.24 L443.48,209.26 L443.58,209.28 L443.67,209.29 L443.77,209.31 L443.87,209.32 L443.97,209.34 L444.07,209.36 L444.17,209.37 L444.26,209.38 L444.36,209.40 L444.46,209.41 L444.56,209.42 L444.66,209.43 L444.76,209.44 L444.85,209.45 L444.95,209.46 L445.05,209.47 L445.15,209.48 L445.25,209.48 L445.35,209.49 L445.44,209.50 L445.54,209.50 L445.64,209.51 L445.74,209.51 L445.84,209.52 L445.94,209.52 L446.03,209.52 L446.13,209.53 L446.23,209.53 L446.33,209.53 L446.43,209.53 L446.53,209.54 L446.62,209.54 L446.72,209.54 L446.82,209.54 L446.92,209.54 L447.02,209.54 L447.12,209.54 L447.21,209.55 L447.31,209.55 L447.41,209.55 L447.51,209.55 L447.61,209.55 L447.71,209.55 L447.80,209.55 L447.90,209.55 L448.00,209.55 L448.10,209.55 L448.20,209.55 L448.30,209.55 L448.39,209.55 L448.49,209.55 L448.59,209.55 L448.69,209.55 L448.79,209.55 L448.89,209.55 L448.98,209.55 L449.08,209.55 L449.18,209.55 L449.28,209.55 L449.38,209.55 L449.48,209.55 L449.57,209.55 L449.67,209.55 L449.77,209.55 L449.87,209.55 L449.97,209.55 L450.07,209.55 L450.16,209.55 L450.26,209.55 L450.36,209.55 L450.46,209.55 L450.56,209.55 L450.66,209.55 L450.75,209.55 L450.85,209.55 L450.95,209.55 L451.05,209.55 L451.15,209.55 L451.25,209.55 L451.34,209.55 L451.44,209.55 L451.54,209.55 L451.64,209.55 L451.74,209.55 L451.84,209.55 L451.93,209.55 L452.03,209.55 L452.13,209.55 L452.23,209.55 L452.33,209.55 L452.43,209.55 L452.52,209.55 L452.62,209.55 L452.72,209.55 L452.82,209.55 L452.92,209.55 L453.02,209.55 L453.11,209.55 L453.21,209.55 L453.31,209.55 L453.41,209.55 L453.51,209.55 L453.61,209.55 L453.70,209.55 L453.80,209.55 L453.90,209.55 L454.00,209.55 L454.10,209.55 L454.20,209.55 L454.29,209.55 L454.39,209.55 L454.49,209.55 L454.59,209.55 L454.69,209.55 L454.79,209.55 L454.88,209.55 L454.98,209.55 L455.08,209.55 L455.18,209.55 L455.28,209.55 L455.38,209.55 L455.47,209.55 L455.57,209.55 L455.67,209.55 L455.77,209.55 L455.87,209.55 L455.97,209.55 L456.06,209.55 L456.16,209.55 L456.26,209.55 L456.36,209.55 L456.46,209.55 L456.56,209.55 L456.65,209.55 L456.75,209.55 L456.85,209.55 L456.95,209.55 L457.05,209.55 L457.15,209.55 L457.24,209.55 L457.34,209.55 L457.44,209.55 L457.54,209.55 L457.64,209.55 L457.74,209.55 L457.83,209.55 L457.93,209.55 L458.03,209.55 L458.13,209.55 L458.23,209.55 L458.33,209.55 L458.42,209.55 L458.52,209.55 L458.62,209.55 L458.72,209.55 L458.82,209.55 L458.92,209.55 L459.01,209.55 L459.11,209.55 L459.21,209.55 L459.31,209.55 L459.41,209.55 L459.51,209.55 L459.60,209.55 L459.70,209.55 L459.80,209.55 L459.90,209.55 L460.00,209.55 L460.10,209.55 L460.19,209.55 L460.29,209.55 L460.39,209.55 L460.49,209.55 L460.59,209.55 L460.69,209.55 L460.78,209.55 L460.88,209.55 L460.98,209.55 L461.08,209.55 L461.18,209.55 L461.28,209.55 L461.37,209.55 L461.47,209.55 L461.57,209.55 L461.67,209.55 L461.77,209.55 L461.87,209.55 L461.96,209.55 L462.06,209.55 L462.16,209.55 L462.26,209.55 L462.36,209.55 L462.46,209.55 L462.55,209.55 L462.65,209.55 L462.75,209.55 L462.85,209.55 L462.95,209.55 L463.05,209.55 L463.14,209.55 L463.24,209.55 L463.34,209.55 L463.44,209.54 L463.54,209.54 L463.64,209.54 L463.73,209.54 L463.83,209.54 L463.93,209.54 L464.03,209.54 L464.13,209.54 L464.23,209.54 L464.32,209.54 L464.42,209.54 L464.52,209.54 L464.62,209.54 L464.72,209.54 L464.82,209.54 L464.91,209.54 L465.01,209.54 L465.11,209.54 L465.21,209.54 L465.31,209.54 L465.41,209.54 L465.50,209.54 L465.60,209.54 L465.70,209.54 L465.80,209.54 L465.90,209.54 L466.00,209.54 L466.09,209.54 L466.19,209.54 L466.29,209.54 L466.39,209.54 L466.49,209.54 L466.59,209.54 L466.68,209.54 L466.78,209.54 L466.88,209.54 L466.98,209.54 L467.08,209.53 L467.18,209.53 L467.27,209.53 L467.37,209.53 L467.47,209.53 L467.57,209.53 L467.67,209.53 L467.77,209.53 L467.86,209.53 L467.96,209.53 L468.06,209.53 L468.16,209.53 L468.26,209.53 L468.36,209.53 L468.45,209.53 L468.55,209.53 L468.65,209.53 L468.75,209.53 L468.85,209.53 L468.95,209.52 L469.04,209.52 L469.14,209.52 L469.24,209.52 L469.34,209.52 L469.44,209.52 L469.54,209.52 L469.63,209.52 L469.73,209.52 L469.83,209.52 L469.93,209.52 L470.03,209.52 L470.13,209.52 L470.22,209.51 L470.32,209.51 L470.42,209.51 L470.52,209.51 L470.62,209.51 L470.72,209.51 L470.81,209.51 L470.91,209.51 L471.01,209.51 L471.11,209.51 L471.21,209.51 L471.31,209.50 L471.40,209.50 L471.50,209.50 L471.60,209.50 L471.70,209.50 L471.80,209.50 L471.90,209.50 L471.99,209.50 L472.09,209.49 L472.19,209.49 L472.29,209.49 L472.39,209.49 L472.49,209.49 L472.58,209.49 L472.68,209.49 L472.78,209.48 L472.88,209.48 L472.98,209.48 L473.08,209.48 L473.17,209.48 L473.27,209.48 L473.37,209.47 L473.47,209.47 L473.57,209.47 L473.67,209.47 L473.76,209.47 L473.86,209.47 L473.96,209.46 L474.06,209.46 L474.16,209.46 L474.26,209.46 L474.35,209.46 L474.45,209.45 L474.55,209.45 L474.65,209.45 L474.75,209.45 L474.85,209.45 L474.94,209.44 L475.04,209.44 L475.14,209.44 L475.24,209.44 L475.34,209.43 L475.44,209.43 L475.53,209.43 L475.63,209.43 L475.73,209.42 L475.83,209.42 L475.93,209.42 L476.03,209.42 L476.12,209.41 L476.22,209.41 L476.32,209.41 L476.42,209.40 L476.52,209.40 L476.62,209.40 L476.71,209.40 L476.81,209.39 L476.91,209.39 L477.01,209.39 L477.11,209.38 L477.21,209.38 L477.30,209.38 L477.40,209.37 L477.50,209.37 L477.60,209.37 L477.70,209.36 L477.80,209.36 L477.89,209.36 L477.99,209.35 L478.09,209.35 L478.19,209.35 L478.29,209.34 L478.39,209.34 L478.48,209.33 L478.58,209.33 L478.68,209.33 L478.78,209.32 L478.88,209.32 L478.98,209.31 L479.07,209.31 L479.17,209.30 L479.27,209.30 L479.37,209.30 L479.47,209.29 L479.57,209.29 L479.66,209.28 L479.76,209.28 L479.86,209.27 L479.96,209.27 L480.06,209.26 L480.16,209.26 L480.25,209.25 L480.35,209.25 L480.45,209.24 L480.55,209.24 L480.65,209.23 L480.75,209.23 L480.84,209.22 L480.94,209.22 L481.04,209.21 L481.14,209.21 L481.24,209.20 L481.34,209.20 L481.43,209.19 L481.53,209.18 L481.63,209.18 L481.73,209.17 L481.83,209.17 L481.93,209.16 L482.02,209.16 L482.12,209.15 L482.22,209.14 L482.32,209.14 L482.42,209.13 L482.52,209.12 L482.61,209.12 L482.71,209.11 L482.81,209.11 L482.91,209.10 L483.01,209.09 L483.11,209.09 L483.20,209.08 L483.30,209.07 L483.40,209.06 L483.50,209.06 L483.60,209.05 L483.70,209.04 L483.79,209.04 L483.89,209.03 L483.99,209.02 L484.09,209.01 L484.19,209.00 L484.29,208.99 L484.38,208.98 L484.48,208.96 L484.58,208.95 L484.68,208.93 L484.78,208.90 L484.88,208.87 L484.97,208.83 L485.07,208.79 L485.17,208.73 L485.27,208.66 L485.37,208.57 L485.47,208.47 L485.56,208.34 L485.66,208.19 L485.76,208.01 L485.86,207.81 L485.96,207.57 L486.06,207.29 L486.15,206.98 L486.25,206.64 L486.35,206.26 L486.45,205.84 L486.55,205.40 L486.65,204.94 L486.74,204.45 L486.84,203.96 L486.94,203.47 L487.04,202.98 L487.14,202.52 L487.24,202.09 L487.33,201.70 L487.43,201.36 L487.53,201.08 L487.63,200.88 L487.73,200.75 L487.83,200.69 L487.92,200.73 L488.02,200.86 L488.12,201.08 L488.22,201.39 L488.32,201.77 L488.42,202.20 L488.51,202.68 L488.61,203.19 L488.71,203.71 L488.81,204.23 L488.91,204.73 L489.01,205.20 L489.10,205.63 L489.20,206.02 L489.30,206.35 L489.40,206.61 L489.50,206.81 L489.60,206.94 L489.69,207.00 L489.79,206.98 L489.89,206.87 L489.99,206.68 L490.09,206.40 L490.19,206.02 L490.28,205.54 L490.38,204.96 L490.48,204.26 L490.58,203.46 L490.68,202.54 L490.78,201.52 L490.87,200.39 L490.97,199.16 L491.07,197.85 L491.17,196.48 L491.27,195.06 L491.37,193.63 L491.46,192.20 L491.56,190.81 L491.66,189.49 L491.76,188.28 L491.86,187.21 L491.96,186.29 L492.05,185.57 L492.15,185.06 L492.25,184.78 L492.35,184.73 L492.45,184.96 L492.54,185.46 L492.64,186.24 L492.74,187.24 L492.84,188.45 L492.94,189.82 L493.04,191.30 L493.13,192.85 L493.23,194.43 L493.33,196.00 L493.43,197.52 L493.53,198.97 L493.63,200.31 L493.72,201.55 L493.82,202.65 L493.92,203.63 L494.02,204.48 L494.12,205.20 L494.22,205.81 L494.31,206.32 L494.41,206.73 L494.51,207.06 L494.61,207.32 L494.71,207.52 L494.81,207.68 L494.90,207.80 L495.00,207.88 L495.10,207.95 L495.20,207.99 L495.30,208.02 L495.40,208.04 L495.49,208.05 L495.59,208.06 L495.69,208.06 L495.79,208.06 L495.89,208.06 L495.99,208.06 L496.08,208.05 L496.18,208.05 L496.28,208.04 L496.38,208.04 L496.48,208.03 L496.58,208.02 L496.67,208.01 L496.77,207.99 L496.87,207.97 L496.97,207.95 L497.07,207.91 L497.17,207.86 L497.26,207.79 L497.36,207.70 L497.46,207.58 L497.56,207.42 L497.66,207.21 L497.76,206.94 L497.85,206.59 L497.95,206.16 L498.05,205.62 L498.15,204.96 L498.25,204.16 L498.35,203.22 L498.44,202.11 L498.54,200.84 L498.64,199.40 L498.74,197.79 L498.84,196.03 L498.94,194.14 L499.03,192.14 L499.13,190.08 L499.23,188.00 L499.33,185.95 L499.43,183.99 L499.53,182.17 L499.62,180.56 L499.72,179.20 L499.82,178.15 L499.92,177.44 L500.02,177.09 L500.12,177.12 L500.21,176.73 L500.31,177.51 L500.41,178.62 L500.51,180.02 L500.61,181.68 L500.71,183.52 L500.80,185.50 L500.90,187.56 L501.00,189.65 L501.10,191.70 L501.20,193.68 L501.30,195.55 L501.39,197.29 L501.49,198.87 L501.59,200.29 L501.69,201.53 L501.79,202.61 L501.89,203.53 L501.98,204.30 L502.08,204.94 L502.18,205.47 L502.28,205.89 L502.38,206.22 L502.48,206.48 L502.57,206.68 L502.67,206.83 L502.77,206.95 L502.87,207.04 L502.97,207.10 L503.07,207.15 L503.16,207.19 L503.26,207.21 L503.36,207.23 L503.46,207.25 L503.56,207.26 L503.66,207.27 L503.75,207.28 L503.85,207.29 L503.95,207.29 L504.05,207.30 L504.15,207.31 L504.25,207.31 L504.34,207.32 L504.44,207.32 L504.54,207.32 L504.64,207.32 L504.74,207.32 L504.84,207.31 L504.93,207.30 L505.03,207.28 L505.13,207.25 L505.23,207.21 L505.33,207.15 L505.43,207.08 L505.52,207.00 L505.62,206.89 L505.72,206.76 L505.82,206.61 L505.92,206.44 L506.02,206.25 L506.11,206.05 L506.21,205.82 L506.31,205.60 L506.41,205.37 L506.51,205.14 L506.61,204.94 L506.70,204.75 L506.80,204.60 L506.90,204.49 L507.00,204.42 L507.10,204.39 L507.20,204.42 L507.29,204.50 L507.39,204.62 L507.49,204.78 L507.59,204.97 L507.69,205.19 L507.79,205.42 L507.88,205.66 L507.98,205.90 L508.08,206.13 L508.18,206.35 L508.28,206.54 L508.38,206.71 L508.47,206.84 L508.57,206.93 L508.67,206.99 L508.77,207.00 L508.87,206.97 L508.97,206.88 L509.06,206.74 L509.16,206.54 L509.26,206.28 L509.36,205.95 L509.46,205.57 L509.56,205.13 L509.65,204.63 L509.75,204.08 L509.85,203.51 L509.95,202.91 L510.05,202.31 L510.15,201.73 L510.24,201.20 L510.34,200.72 L510.44,200.33 L510.54,200.04 L510.64,199.87 L510.74,199.81 L510.83,199.87 L510.93,200.03 L511.03,200.28 L511.13,200.62 L511.23,201.02 L511.33,201.49 L511.42,201.99 L511.52,202.53 L511.62,203.08 L511.72,203.64 L511.82,204.18 L511.92,204.69 L512.01,205.18 L512.11,205.62 L512.21,206.03 L512.31,206.39 L512.41,206.71 L512.51,206.98 L512.60,207.21 L512.70,207.41 L512.80,207.57 L512.90,207.70 L513.00,207.81 L513.10,207.90 L513.19,207.97 L513.29,208.02 L513.39,208.07 L513.49,208.10 L513.59,208.13 L513.69,208.15 L513.78,208.17 L513.88,208.19 L513.98,208.20 L514.08,208.22 L514.18,208.23 L514.28,208.24 L514.37,208.25 L514.47,208.26 L514.57,208.27 L514.67,208.28 L514.77,208.29 L514.87,208.30 L514.96,208.30 L515.06,208.31 L515.16,208.32 L515.26,208.33 L515.36,208.34 L515.46,208.35 L515.55,208.36 L515.65,208.36 L515.75,208.37 L515.85,208.38 L515.95,208.39 L516.05,208.40 L516.14,208.41 L516.24,208.41 L516.34,208.42 L516.44,208.43 L516.54,208.44 L516.64,208.45 L516.73,208.45 L516.83,208.46 L516.93,208.47 L517.03,208.48 L517.13,208.49 L517.23,208.49 L517.32,208.50 L517.42,208.51 L517.52,208.52 L517.62,208.52 L517.72,208.53 L517.82,208.54 L517.91,208.55 L518.01,208.55 L518.11,208.56 L518.21,208.57 L518.31,208.57 L518.41,208.58 L518.50,208.59 L518.60,208.59 L518.70,208.60 L518.80,208.61 L518.90,208.61 L519.00,208.62 L519.09,208.63 L519.19,208.63 L519.29,208.64 L519.39,208.64 L519.49,208.65 L519.59,208.65 L519.68,208.66 L519.78,208.66 L519.88,208.66 L519.98,208.67 L520.08,208.67 L520.18,208.67 L520.27,208.66 L520.37,208.66 L520.47,208.65 L520.57,208.63 L520.67,208.62 L520.77,208.59 L520.86,208.57 L520.96,208.53 L521.06,208.49 L521.16,208.44 L521.26,208.39 L521.36,208.32 L521.45,208.25 L521.55,208.17 L521.65,208.09 L521.75,207.99 L521.85,207.90 L521.95,207.80 L522.04,207.70 L522.14,207.59 L522.24,207.50 L522.34,207.40 L522.44,207.32 L522.54,207.24 L522.63,207.18 L522.73,207.13 L522.83,207.10 L522.93,207.08 L523.03,207.08 L523.13,207.10 L523.22,207.14 L523.32,207.19 L523.42,207.25 L523.52,207.33 L523.62,207.42 L523.72,207.52 L523.81,207.63 L523.91,207.74 L524.01,207.85 L524.11,207.95 L524.21,208.06 L524.31,208.16 L524.40,208.26 L524.50,208.35 L524.60,208.43 L524.70,208.51 L524.80,208.58 L524.90,208.64 L524.99,208.69 L525.09,208.73 L525.19,208.77 L525.29,208.81 L525.39,208.83 L525.49,208.86 L525.58,208.88 L525.68,208.89 L525.78,208.90 L525.88,208.92 L525.98,208.92 L526.08,208.93 L526.17,208.94 L526.27,208.94 L526.37,208.95 L526.47,208.95 L526.57,208.96 L526.67,208.96 L526.76,208.96 L526.86,208.97 L526.96,208.97 L527.06,208.97 L527.16,208.97 L527.26,208.98 L527.35,208.98 L527.45,208.98 L527.55,208.98 L527.65,208.99 L527.75,208.99 L527.85,208.99 L527.94,208.99 L528.04,208.99 L528.14,209.00 L528.24,209.00 L528.34,209.00 L528.44,209.00 L528.53,209.01 L528.63,209.01 L528.73,209.01 L528.83,209.01 L528.93,209.01 L529.03,209.01 L529.12,209.02 L529.22,209.02 L529.32,209.02 L529.42,209.02 L529.52,209.02 L529.62,209.03 L529.71,209.03 L529.81,209.03 L529.91,209.03 L530.01,209.03 L530.11,209.03 L530.21,209.04 L530.30,209.04 L530.40,209.04 L530.50,209.04 L530.60,209.04 L530.70,209.04 L530.80,209.05 L530.89,209.05 L530.99,209.05 L531.09,209.05 L531.19,209.05 L531.29,209.05 L531.39,209.05 L531.48,209.06 L531.58,209.06 L531.68,209.06 L531.78,209.06 L531.88,209.06 L531.98,209.06 L532.07,209.06 L532.17,209.07 L532.27,209.07 L532.37,209.07 L532.47,209.07 L532.57,209.07 L532.66,209.07 L532.76,209.07 L532.86,209.07 L532.96,209.08 L533.06,209.08 L533.16,209.08 L533.25,209.08 L533.35,209.08 L533.45,209.08 L533.55,209.08 L533.65,209.08 L533.75,209.08 L533.84,209.09 L533.94,209.09 L534.04,209.09 L534.14,209.09 L534.24,209.09 L534.34,209.09 L534.43,209.09 L534.53,209.09 L534.63,209.09 L534.73,209.10 L534.83,209.10 L534.93,209.10 L535.02,209.10 L535.12,209.10 L535.22,209.10 L535.32,209.10 L535.42,209.10 L535.52,209.10 L535.61,209.10 L535.71,209.11 L535.81,209.11 L535.91,209.11 L536.01,209.11 L536.11,209.11 L536.20,209.11 L536.30,209.11 L536.40,209.11 L536.50,209.11 L536.60,209.11 L536.70,209.11 L536.79,209.12 L536.89,209.12 L536.99,209.12 L537.09,209.12 L537.19,209.12 L537.29,209.12 L537.38,209.12 L537.48,209.12 L537.58,209.12 L537.68,209.12 L537.78,209.12 L537.88,209.12 L537.97,209.12 L538.07,209.12 L538.17,209.12 L538.27,209.12 L538.37,209.12 L538.47,209.12 L538.56,209.12 L538.66,209.12 L538.76,209.12 L538.86,209.11 L538.96,209.11 L539.06,209.11 L539.15,209.10 L539.25,209.09 L539.35,209.08 L539.45,209.07 L539.55,209.06 L539.65,209.05 L539.74,209.03 L539.84,209.01 L539.94,208.98 L540.04,208.96 L540.14,208.93 L540.24,208.89 L540.33,208.85 L540.43,208.80 L540.53,208.75 L540.63,208.70 L540.73,208.63 L540.83,208.57 L540.92,208.49 L541.02,208.41 L541.12,208.33 L541.22,208.24 L541.32,208.14 L541.41,208.04 L541.51,207.94 L541.61,207.83 L541.71,207.72 L541.81,207.61 L541.91,207.50 L542.00,207.39 L542.10,207.28 L542.20,207.18 L542.30,207.08 L542.40,206.99 L542.50,206.90 L542.59,206.82 L542.69,206.76 L542.79,206.70 L542.89,206.65 L542.99,206.62 L543.09,206.60 L543.18,206.59 L543.28,206.59 L543.38,206.61 L543.48,206.63 L543.58,206.67 L543.68,206.71 L543.77,206.76 L543.87,206.82 L543.97,206.89 L544.07,206.96 L544.17,207.04 L544.27,207.13 L544.36,207.22 L544.46,207.31 L544.56,207.40 L544.66,207.50 L544.76,207.60 L544.86,207.70 L544.95,207.79 L545.05,207.89 L545.15,207.98 L545.25,208.08 L545.35,208.17 L545.45,208.25 L545.54,208.33 L545.64,208.41 L545.74,208.48 L545.84,208.55 L545.94,208.62 L546.04,208.68 L546.13,208.73 L546.23,208.78 L546.33,208.83 L546.43,208.87 L546.53,208.91 L546.63,208.95 L546.72,208.98 L546.82,209.01 L546.92,209.03 L547.02,209.05 L547.12,209.07 L547.22,209.09 L547.31,209.11 L547.41,209.12 L547.51,209.13 L547.61,209.14 L547.71,209.15 L547.81,209.16 L547.90,209.16 L548.00,209.17 L548.10,209.18 L548.20,209.18 L548.30,209.18 L548.40,209.19 L548.49,209.19 L548.59,209.19 L548.69,209.19 L548.79,209.19 L548.89,209.20 L548.99,209.20 L549.08,209.20 L549.18,209.20 L549.28,209.20 L549.38,209.20 L549.48,209.20 L549.58,209.20 L549.67,209.20 L549.77,209.20 L549.87,209.21 L549.97,209.21 L550.07,209.21 L550.17,209.21 L550.26,209.21 L550.36,209.21 L550.46,209.21 L550.56,209.21 L550.66,209.21 L550.76,209.21 L550.85,209.21 L550.95,209.21 L551.05,209.21 L551.15,209.21 L551.25,209.21 L551.35,209.21 L551.44,209.21 L551.54,209.22 L551.64,209.22 L551.74,209.22 L551.84,209.22 L551.94,209.22 L552.03,209.22 L552.13,209.22 L552.23,209.22 L552.33,209.22 L552.43,209.22 L552.53,209.22 L552.62,209.22 L552.72,209.22 L552.82,209.22 L552.92,209.22 L553.02,209.22 L553.12,209.22 L553.21,209.22 L553.31,209.23 L553.41,209.23 L553.51,209.23 L553.61,209.23 L553.71,209.23 L553.80,209.23 L553.90,209.23 L554.00,209.23 L554.10,209.23 L554.20,209.23 L554.30,209.23 L554.39,209.23 L554.49,209.23 L554.59,209.23 L554.69,209.23 L554.79,209.23 L554.89,209.23 L554.98,209.23 L555.08,209.23 L555.18,209.24 L555.28,209.24 L555.38,209.24 L555.48,209.24 L555.57,209.24 L555.67,209.24 L555.77,209.24 L555.87,209.24 L555.97,209.24 L556.07,209.24 L556.16,209.24 L556.26,209.24 L556.36,209.24 L556.46,209.24 L556.56,209.24 L556.66,209.24 L556.75,209.24 L556.85,209.24 L556.95,209.24 L557.05,209.25 L557.15,209.25 L557.25,209.25 L557.34,209.25 L557.44,209.25 L557.54,209.25 L557.64,209.25 L557.74,209.25 L557.84,209.25 L557.93,209.25 L558.03,209.25 L558.13,209.25 L558.23,209.25 L558.33,209.25 L558.43,209.25 L558.52,209.25 L558.62,209.25 L558.72,209.25 L558.82,209.25 L558.92,209.25 L559.02,209.26 L559.11,209.26 L559.21,209.26 L559.31,209.26 L559.41,209.26 L559.51,209.26 L559.61,209.26 L559.70,209.26 L559.80,209.26 L559.90,209.26 L560.00,209.26 L560.10,209.26 L560.20,209.26 L560.29,209.26 L560.39,209.26 L560.49,209.26 L560.59,209.26 L560.69,209.26 L560.79,209.26 L560.88,209.26 L560.98,209.26 L561.08,209.27 L561.18,209.27 L561.28,209.27 L561.38,209.27 L561.47,209.27 L561.57,209.27 L561.67,209.27 L561.77,209.27 L561.87,209.27 L561.97,209.27 L562.06,209.27 L562.16,209.27 L562.26,209.27 L562.36,209.27 L562.46,209.27 L562.56,209.27 L562.65,209.27 L562.75,209.27 L562.85,209.27 L562.95,209.27 L563.05,209.27 L563.15,209.28 L563.24,209.28 L563.34,209.28 L563.44,209.28 L563.54,209.28 L563.64,209.28 L563.74,209.28 L563.83,209.28 L563.93,209.28 L564.03,209.28 L564.13,209.28 L564.23,209.28 L564.33,209.28 L564.42,209.28 L564.52,209.28 L564.62,209.28 L564.72,209.28 L564.82,209.28 L564.92,209.28 L565.01,209.28 L565.11,209.28 L565.21,209.28 L565.31,209.29 L565.41,209.29 L565.51,209.29 L565.60,209.29 L565.70,209.29 L565.80,209.29 L565.90,209.29 L566.00,209.29 L566.10,209.29 L566.19,209.29 L566.29,209.29 L566.39,209.29 L566.49,209.29 L566.59,209.29 L566.69,209.29 L566.78,209.29 L566.88,209.29 L566.98,209.29 L567.08,209.29 L567.18,209.29 L567.28,209.29 L567.37,209.29 L567.47,209.29 L567.57,209.29 L567.67,209.30 L567.77,209.30 L567.87,209.30 L567.96,209.30 L568.06,209.30 L568.16,209.30 L568.26,209.30 L568.36,209.30 L568.46,209.30 L568.55,209.30 L568.65,209.30 L568.75,209.30 L568.85,209.30 L568.95,209.30 L569.05,209.30 L569.14,209.30 L569.24,209.30 L569.34,209.30 L569.44,209.30 L569.54,209.30 L569.64,209.30 L569.73,209.30 L569.83,209.30 L569.93,209.30 L570.03,209.31 L570.13,209.31 L570.23,209.31 L570.32,209.31 L570.42,209.31 L570.52,209.31 L570.62,209.31 L570.72,209.31 L570.82,209.31 L570.91,209.31 L571.01,209.31 L571.11,209.31 L571.21,209.31 L571.31,209.31 L571.41,209.31 L571.50,209.31 L571.60,209.31 L571.70,209.31 L571.80,209.31 L571.90,209.31 L572.00,209.31 L572.09,209.31 L572.19,209.31 L572.29,209.31 L572.39,209.31 L572.49,209.32 L572.59,209.32 L572.68,209.32 L572.78,209.32 L572.88,209.32 L572.98,209.32 L573.08,209.32 L573.18,209.32 L573.27,209.32 L573.37,209.32 L573.47,209.32 L573.57,209.32 L573.67,209.32 L573.77,209.32 L573.86,209.32 L573.96,209.32 L574.06,209.32 L574.16,209.32 L574.26,209.32 L574.36,209.32 L574.45,209.32 L574.55,209.32 L574.65,209.32 L574.75,209.32 L574.85,209.32 L574.95,209.32 L575.04,209.33 L575.14,209.33 L575.24,209.33 L575.34,209.33 L575.44,209.33 L575.54,209.33 L575.63,209.33 L575.73,209.33 L575.83,209.33 L575.93,209.33 L576.03,209.33 L576.13,209.32 L576.22,209.32 L576.32,209.32 L576.42,209.31 L576.52,209.31 L576.62,209.29 L576.72,209.28 L576.81,209.26 L576.91,209.23 L577.01,209.19 L577.11,209.14 L577.21,209.07 L577.31,208.99 L577.40,208.89 L577.50,208.78 L577.60,208.64 L577.70,208.48 L577.80,208.30 L577.90,208.10 L577.99,207.88 L578.09,207.65 L578.19,207.42 L578.29,207.19 L578.39,206.97 L578.49,206.76 L578.58,206.58 L578.68,206.43 L578.78,206.31 L578.88,206.22 L578.98,206.17 L579.08,206.16 L579.17,206.16 L579.27,206.17 L579.37,206.18 L579.47,206.16 L579.57,206.09 L579.67,205.95 L579.76,205.71 L579.86,205.35 L579.96,204.83 L580.06,204.15 L580.16,203.27 L580.26,202.19 L580.35,200.92 L580.45,199.44 L580.55,197.80 L580.65,196.02 L580.75,194.13 L580.85,192.21 L580.94,190.32 L581.04,188.51 L581.14,186.87 L581.24,185.47 L581.34,184.36 L581.44,183.61 L581.53,183.23 L581.63,183.26 L581.73,183.70 L581.83,184.51 L581.93,185.67 L582.03,187.13 L582.12,188.82 L582.22,190.68 L582.32,192.63 L582.42,194.61 L582.52,196.55 L582.62,198.42 L582.71,200.15 L582.81,201.73 L582.91,203.14 L583.01,204.37 L583.11,205.41 L583.21,206.29 L583.30,207.01 L583.40,207.58 L583.50,208.04 L583.60,208.39 L583.70,208.66 L583.80,208.87 L583.89,209.01 L583.99,209.12 L584.09,209.20 L584.19,209.25 L584.29,209.29 L584.39,209.31 L584.48,209.33 L584.58,209.34 L584.68,209.35 L584.78,209.35 L584.88,209.36 L584.98,209.36 L585.07,209.36 L585.17,209.36 L585.27,209.36 L585.37,209.36 L585.47,209.36 L585.57,209.36 L585.66,209.36 L585.76,209.36 L585.86,209.36 L585.96,209.36 L586.06,209.36 L586.16,209.36 L586.25,209.36 L586.35,209.36 L586.45,209.36 L586.55,209.37 L586.65,209.37 L586.75,209.37 L586.84,209.37 L586.94,209.37 L587.04,209.37 L587.14,209.37 L587.24,209.37 L587.34,209.37 L587.43,209.37 L587.53,209.37 L587.63,209.37 L587.73,209.37 L587.83,209.37 L587.93,209.37 L588.02,209.37 L588.12,209.37 L588.22,209.37 L588.32,209.37 L588.42,209.37 L588.52,209.37 L588.61,209.37 L588.71,209.37 L588.81,209.37 L588.91,209.37 L589.01,209.37 L589.11,209.37 L589.20,209.37 L589.30,209.37 L589.40,209.37 L589.50,209.37 L589.60,209.37 L589.70,209.37 L589.79,209.38 L589.89,209.38 L589.99,209.38 L590.09,209.38 L590.19,209.38 L590.29,209.38 L590.38,209.38 L590.48,209.38 L590.58,209.38 L590.68,209.38 L590.78,209.38 L590.87,209.38 L590.97,209.38 L591.07,209.38 L591.17,209.38 L591.27,209.38 L591.37,209.38 L591.46,209.38 L591.56,209.38 L591.66,209.38 L591.76,209.38 L591.86,209.38 L591.96,209.38 L592.05,209.38 L592.15,209.38 L592.25,209.38 L592.35,209.38 L592.45,209.38 L592.55,209.38 L592.64,209.38 L592.74,209.38 L592.84,209.38 L592.94,209.38 L593.04,209.38 L593.14,209.38 L593.23,209.38 L593.33,209.39 L593.43,209.39 L593.53,209.39 L593.63,209.39 L593.73,209.39 L593.82,209.39 L593.92,209.39 L594.02,209.39 L594.12,209.39 L594.22,209.39 L594.32,209.39 L594.41,209.39 L594.51,209.39 L594.61,209.39 L594.71,209.39 L594.81,209.39 L594.91,209.39 L595.00,209.39 L595.10,209.39 L595.20,209.39 L595.30,209.39 L595.40,209.39 L595.50,209.39 L595.59,209.39 L595.69,209.39 L595.79,209.39 L595.89,209.39 L595.99,209.39 L596.09,209.39 L596.18,209.39 L596.28,209.39 L596.38,209.39 L596.48,209.39 L596.58,209.39 L596.68,209.39 L596.77,209.39 L596.87,209.39 L596.97,209.40 L597.07,209.40 L597.17,209.40 L597.27,209.40 L597.36,209.40 L597.46,209.40 L597.56,209.40 L597.66,209.40 L597.76,209.40 L597.86,209.40 L597.95,209.40 L598.05,209.40 L598.15,209.40 L598.25,209.40 L598.35,209.40 L598.45,209.40 L598.54,209.40 L598.64,209.40 L598.74,209.40 L598.84,209.40 L598.94,209.40 L599.04,209.40 L599.13,209.40 L599.23,209.40 L599.33,209.40 L599.43,209.40 L599.53,209.40 L599.63,209.40 L599.72,209.40 L599.82,209.40 L599.92,209.40 L600.02,209.40 L600.12,209.40 L600.22,209.40 L600.31,209.40 L600.41,209.40 L600.51,209.40 L600.61,209.40 L600.71,209.40 L600.81,209.40 L600.90,209.41 L601.00,209.41 L601.10,209.41 L601.20,209.41 L601.30,209.41 L601.40,209.41 L601.49,209.41 L601.59,209.41 L601.69,209.41 L601.79,209.41 L601.89,209.41 L601.99,209.41 L602.08,209.41 L602.18,209.41 L602.28,209.41 L602.38,209.41 L602.48,209.41 L602.58,209.41 L602.67,209.41 L602.77,209.41 L602.87,209.41 L602.97,209.41 L603.07,209.41 L603.17,209.41 L603.26,209.41 L603.36,209.41 L603.46,209.41 L603.56,209.41 L603.66,209.41 L603.76,209.41 L603.85,209.41 L603.95,209.41 L604.05,209.41 L604.15,209.41 L604.25,209.41 L604.35,209.41 L604.44,209.41 L604.54,209.41 L604.64,209.41 L604.74,209.41 L604.84,209.41 L604.94,209.41 L605.03,209.41 L605.13,209.42 L605.23,209.42 L605.33,209.42 L605.43,209.42 L605.53,209.42 L605.62,209.42 L605.72,209.42 L605.82,209.42 L605.92,209.42 L606.02,209.42 L606.12,209.42 L606.21,209.42 L606.31,209.42 L606.41,209.42 L606.51,209.42 L606.61,209.42 L606.71,209.42 L606.80,209.42 L606.90,209.42 L607.00,209.42 L607.10,209.42 L607.20,209.42 L607.30,209.42 L607.39,209.42 L607.49,209.42 L607.59,209.42 L607.69,209.42 L607.79,209.42 L607.89,209.42 L607.98,209.42 L608.08,209.42 L608.18,209.42 L608.28,209.42 L608.38,209.42 L608.48,209.42 L608.57,209.42 L608.67,209.42 L608.77,209.42 L608.87,209.42 L608.97,209.42 L609.07,209.41 L609.16,209.41 L609.26,209.40 L609.36,209.39 L609.46,209.38 L609.56,209.36 L609.66,209.34 L609.75,209.32 L609.85,209.29 L609.95,209.25 L610.05,209.20 L610.15,209.15 L610.25,209.09 L610.34,209.02 L610.44,208.95 L610.54,208.87 L610.64,208.79 L610.74,208.71 L610.84,208.63 L610.93,208.56 L611.03,208.49 L611.13,208.44 L611.23,208.40 L611.33,208.37 L611.43,208.36 L611.52,208.37 L611.62,208.39 L611.72,208.43 L611.82,208.48 L611.92,208.54 L612.02,208.61 L612.11,208.69 L612.21,208.77 L612.31,208.85 L612.41,208.93 L612.51,209.00 L612.61,209.07 L612.70,209.14 L612.80,209.19 L612.90,209.24 L613.00,209.28 L613.10,209.32 L613.20,209.34 L613.29,209.37 L613.39,209.38 L613.49,209.40 L613.59,209.41 L613.69,209.42 L613.79,209.42 L613.88,209.43 L613.98,209.43 L614.08,209.43 L614.18,209.43 L614.28,209.43 L614.38,209.43 L614.47,209.43 L614.57,209.43 L614.67,209.43 L614.77,209.44 L614.87,209.44 L614.97,209.44 L615.06,209.44 L615.16,209.44 L615.26,209.44 L615.36,209.44 L615.46,209.44 L615.56,209.44 L615.65,209.44 L615.75,209.44 L615.85,209.44 L615.95,209.44 L616.05,209.44 L616.15,209.44 L616.24,209.44 L616.34,209.44 L616.44,209.44 L616.54,209.44 L616.64,209.44 L616.74,209.44 L616.83,209.44 L616.93,209.44 L617.03,209.44 L617.13,209.44 L617.23,209.44 L617.33,209.44 L617.42,209.44 L617.52,209.44 L617.62,209.44 L617.72,209.44 L617.82,209.44 L617.92,209.44 L618.01,209.44 L618.11,209.44 L618.21,209.44 L618.31,209.44 L618.41,209.44 L618.51,209.44 L618.60,209.44 L618.70,209.44 L618.80,209.44 L618.90,209.44 L619.00,209.44 L619.10,209.44 L619.19,209.44 L619.29,209.44 L619.39,209.44 L619.49,209.44 L619.59,209.44 L619.69,209.44 L619.78,209.44 L619.88,209.44 L619.98,209.45 L620.08,209.45 L620.18,209.45 L620.28,209.45 L620.37,209.45 L620.47,209.45 L620.57,209.45 L620.67,209.45 L620.77,209.45 L620.87,209.45 L620.96,209.45 L621.06,209.45 L621.16,209.45 L621.26,209.45 L621.36,209.45 L621.46,209.45 L621.55,209.45 L621.65,209.45 L621.75,209.45 L621.85,209.45 L621.95,209.45 L622.05,209.45 L622.14,209.45 L622.24,209.45 L622.34,209.45 L622.44,209.45 L622.54,209.44 L622.64,209.44 L622.73,209.44 L622.83,209.43 L622.93,209.42 L623.03,209.41 L623.13,209.39 L623.23,209.37 L623.32,209.35 L623.42,209.31 L623.52,209.27 L623.62,209.21 L623.72,209.15 L623.82,209.07 L623.91,208.98 L624.01,208.88 L624.11,208.77 L624.21,208.65 L624.31,208.52 L624.41,208.38 L624.50,208.25 L624.60,208.12 L624.70,208.00 L624.80,207.89 L624.90,207.81 L625.00,207.74 L625.09,207.70 L625.19,207.68 L625.29,207.69 L625.39,207.72 L625.49,207.76 L625.59,207.82 L625.68,207.89 L625.78,207.97 L625.88,208.07 L625.98,208.17 L626.08,208.27 L626.18,208.38 L626.27,208.49 L626.37,208.59 L626.47,208.69 L626.57,208.79 L626.67,208.88 L626.77,208.96 L626.86,209.04 L626.96,209.10 L627.06,209.16 L627.16,209.22 L627.26,209.26 L627.36,209.30 L627.45,209.33 L627.55,209.36 L627.65,209.38 L627.75,209.40 L627.85,209.41 L627.95,209.42 L628.04,209.43 L628.14,209.44 L628.24,209.44 L628.34,209.45 L628.44,209.45 L628.54,209.45 L628.63,209.46 L628.73,209.46 L628.83,209.46 L628.93,209.46 L629.03,209.46 L629.13,209.46 L629.22,209.46 L629.32,209.46 L629.42,209.46 L629.52,209.46 L629.62,209.46 L629.72,209.46 L629.81,209.46 L629.91,209.46 L630.01,209.46 L630.11,209.46 L630.21,209.45 L630.31,209.44 L630.40,209.43 L630.50,209.41 L630.60,209.38 L630.70,209.33 L630.80,209.26 L630.90,209.15 L630.99,208.99 L631.09,208.76 L631.19,208.45 L631.29,208.04 L631.39,207.49 L631.49,206.78 L631.58,205.89 L631.68,204.81 L631.78,203.52 L631.88,202.03 L631.98,200.35 L632.08,198.52 L632.17,196.58 L632.27,194.61 L632.37,192.68 L632.47,190.89 L632.57,189.32 L632.67,188.06 L632.76,187.18 L632.86,186.73 L632.96,186.72 L633.06,187.05 L633.16,187.68 L633.26,188.60 L633.35,189.75 L633.45,191.11 L633.55,192.61 L633.65,194.21 L633.75,195.85 L633.85,197.48 L633.94,199.07 L634.04,200.57 L634.14,201.97 L634.24,203.23 L634.34,204.36 L634.44,205.34 L634.53,206.18 L634.63,206.88 L634.73,207.46 L634.83,207.94 L634.93,208.32 L635.03,208.61 L635.12,208.84 L635.22,209.02 L635.32,209.15 L635.42,209.24 L635.52,209.31 L635.62,209.35 L635.71,209.38 L635.81,209.39 L635.91,209.39 L636.01,209.37 L636.11,209.33 L636.21,209.27 L636.30,209.17 L636.40,209.03 L636.50,208.83 L636.60,208.55 L636.70,208.16 L636.80,207.63 L636.89,206.91 L636.99,205.96 L637.09,204.72 L637.19,203.13 L637.29,201.11 L637.39,198.60 L637.48,195.51 L637.58,191.77 L637.68,187.33 L637.78,182.13 L637.88,176.14 L637.98,169.37 L638.07,161.85 L638.17,153.65 L638.27,144.89 L638.37,135.72 L638.47,126.34 L638.57,116.98 L638.66,107.89 L638.76,99.36 L638.86,91.66 L638.96,85.05 L639.06,79.77 L639.16,76.01 L639.25,73.93 L639.35,73.63 L639.45,75.63 L639.55,79.98 L639.65,86.46 L639.75,94.73 L639.84,104.38 L639.94,114.96 L640.04,126.01 L640.14,137.11 L640.24,147.86 L640.33,157.97 L640.43,167.19 L640.53,175.39 L640.63,182.49 L640.73,188.48 L640.83,193.41 L640.92,197.37 L641.02,200.45 L641.12,202.75 L641.22,204.38 L641.32,205.40 L641.42,205.86 L641.51,205.77 L641.61,205.11 L641.71,203.81 L641.81,200.57 L641.91,197.66 L642.01,193.70 L642.10,188.53 L642.20,181.98 L642.30,173.90 L642.40,164.24 L642.50,152.98 L642.60,140.23 L642.69,126.24 L642.79,111.36 L642.89,96.10 L642.99,81.07 L643.09,66.93 L643.19,54.39 L643.28,44.13 L643.38,36.73 L643.48,32.62 L643.58,31.90 L643.68,32.92 L643.78,35.12 L643.87,38.47 L643.97,42.88 L644.07,48.29 L644.17,54.58 L644.27,61.63 L644.37,69.31 L644.46,77.50 L644.56,86.04 L644.66,94.81 L644.76,103.67 L644.86,112.51 L644.96,121.20 L645.05,129.64 L645.15,137.76 L645.25,145.48 L645.35,152.74 L645.45,159.50 L645.55,165.74 L645.64,171.44 L645.74,176.60 L645.84,181.24 L645.94,185.36 L646.04,189.00 L646.14,192.18 L646.23,194.94 L646.33,197.32 L646.43,199.34 L646.53,201.06 L646.63,202.50 L646.73,203.70 L646.82,204.70 L646.92,205.51 L647.02,206.18 L647.12,206.72 L647.22,207.15 L647.32,207.50 L647.41,207.77 L647.51,207.98 L647.61,208.15 L647.71,208.28 L647.81,208.39 L647.91,208.47 L648.00,208.53 L648.10,208.57 L648.20,208.61 L648.30,208.64 L648.40,208.66 L648.50,208.68 L648.59,208.69 L648.69,208.70 L648.79,208.71 L648.89,208.72 L648.99,208.73 L649.09,208.73 L649.18,208.74 L649.28,208.74 L649.38,208.75 L649.48,208.75 L649.58,208.76 L649.68,208.76 L649.77,208.77 L649.87,208.77 L649.97,208.78 L650.07,208.78 L650.17,208.79 L650.27,208.79 L650.36,208.79 L650.46,208.80 L650.56,208.80 L650.66,208.81 L650.76,208.81 L650.86,208.82 L650.95,208.82 L651.05,208.83 L651.15,208.83 L651.25,208.83 L651.35,208.84 L651.45,208.84 L651.54,208.85 L651.64,208.85 L651.74,208.85 L651.84,208.86 L651.94,208.86 L652.04,208.87 L652.13,208.87 L652.23,208.87 L652.33,208.88 L652.43,208.88 L652.53,208.89 L652.63,208.89 L652.72,208.89 L652.82,208.90 L652.92,208.90 L653.02,208.91 L653.12,208.91 L653.22,208.91 L653.31,208.92 L653.41,208.92 L653.51,208.92 L653.61,208.93 L653.71,208.93 L653.81,208.93 L653.90,208.94 L654.00,208.94 L654.10,208.95 L654.20,208.95 L654.30,208.95 L654.40,208.96 L654.49,208.96 L654.59,208.96 L654.69,208.97 L654.79,208.97 L654.89,208.97 L654.99,208.98 L655.08,208.98 L655.18,208.98 L655.28,208.99 L655.38,208.99 L655.48,208.99 L655.58,209.00 L655.67,209.00 L655.77,209.00 L655.87,209.01 L655.97,209.01 L656.07,209.01 L656.17,209.01 L656.26,209.02 L656.36,209.02 L656.46,209.02 L656.56,209.03 L656.66,209.03 L656.76,209.03 L656.85,209.04 L656.95,209.04 L657.05,209.04 L657.15,209.04 L657.25,209.05 L657.35,209.05 L657.44,209.05 L657.54,209.06 L657.64,209.06 L657.74,209.06 L657.84,209.06 L657.94,209.07 L658.03,209.07 L658.13,209.07 L658.23,209.08 L658.33,209.08 L658.43,209.08 L658.53,209.08 L658.62,209.09 L658.72,209.09 L658.82,209.09 L658.92,209.09 L659.02,209.10 L659.12,209.10 L659.21,209.10 L659.31,209.10 L659.41,209.11 L659.51,209.11 L659.61,209.11 L659.71,209.11 L659.80,209.12 L659.90,209.12 L660.00,209.12 L660.10,209.12 L660.20,209.13 L660.30,209.13 L660.39,209.13 L660.49,209.13 L660.59,209.14 L660.69,209.14 L660.79,209.14 L660.89,209.14 L660.98,209.15 L661.08,209.15 L661.18,209.15 L661.28,209.15 L661.38,209.15 L661.48,209.16 L661.57,209.16 L661.67,209.16 L661.77,209.16 L661.87,209.17 L661.97,209.17 L662.07,209.17 L662.16,209.17 L662.26,209.17 L662.36,209.18 L662.46,209.18 L662.56,209.18 L662.66,209.18 L662.75,209.18 L662.85,209.19 L662.95,209.19 L663.05,209.19 L663.15,209.19 L663.25,209.19 L663.34,209.20 L663.44,209.20 L663.54,209.20 L663.64,209.20 L663.74,209.20 L663.84,209.21 L663.93,209.21 L664.03,209.21 L664.13,209.21 L664.23,209.21 L664.33,209.22 L664.43,209.22 L664.52,209.22 L664.62,209.22 L664.72,209.22 L664.82,209.22 L664.92,209.23 L665.02,209.23 L665.11,209.23 L665.21,209.23 L665.31,209.23 L665.41,209.24 L665.51,209.24 L665.61,209.24 L665.70,209.24 L665.80,209.24 L665.90,209.24 L666.00,209.25 L666.10,209.25 L666.20,209.25 L666.29,209.25 L666.39,209.25 L666.49,209.25 L666.59,209.26 L666.69,209.26 L666.79,209.26 L666.88,209.26 L666.98,209.26 L667.08,209.26 L667.18,209.27 L667.28,209.27 L667.38,209.27 L667.47,209.27 L667.57,209.27 L667.67,209.27 L667.77,209.27 L667.87,209.28 L667.97,209.28 L668.06,209.28 L668.16,209.28 L668.26,209.28 L668.36,209.28 L668.46,209.28 L668.56,209.29 L668.65,209.29 L668.75,209.29 L668.85,209.29 L668.95,209.29 L669.05,209.29 L669.15,209.29 L669.24,209.30 L669.34,209.30 L669.44,209.30 L669.54,209.30 L669.64,209.30 L669.74,209.30 L669.83,209.30 L669.93,209.31 L670.03,209.31 L670.13,209.31 L670.23,209.31 L670.33,209.31 L670.42,209.31 L670.52,209.31 L670.62,209.31 L670.72,209.32 L670.82,209.32 L670.92,209.32 L671.01,209.32 L671.11,209.32 L671.21,209.32 L671.31,209.32 L671.41,209.32 L671.51,209.33 L671.60,209.33 L671.70,209.33 L671.80,209.33 L671.90,209.33 L672.00,209.33 L672.10,209.33 L672.19,209.33 L672.29,209.33 L672.39,209.34 L672.49,209.34 L672.59,209.34 L672.69,209.34 L672.78,209.34 L672.88,209.34 L672.98,209.34 L673.08,209.34 L673.18,209.35 L673.28,209.35 L673.37,209.35 L673.47,209.35 L673.57,209.35 L673.67,209.35 L673.77,209.35 L673.87,209.35 L673.96,209.35 L674.06,209.35 L674.16,209.36 L674.26,209.36 L674.36,209.36 L674.46,209.36 L674.55,209.36 L674.65,209.36 L674.75,209.36 L674.85,209.36 L674.95,209.36 L675.05,209.36 L675.14,209.37 L675.24,209.37 L675.34,209.37 L675.44,209.37 L675.54,209.37 L675.64,209.37 L675.73,209.37 L675.83,209.37 L675.93,209.37 L676.03,209.37 L676.13,209.37 L676.23,209.38 L676.32,209.38 L676.42,209.38 L676.52,209.38 L676.62,209.38 L676.72,209.38 L676.82,209.38 L676.91,209.38 L677.01,209.38 L677.11,209.38 L677.21,209.38 L677.31,209.39 L677.41,209.39 L677.50,209.39 L677.60,209.39 L677.70,209.39 L677.80,209.39 L677.90,209.39 L678.00,209.39 L678.09,209.39 L678.19,209.39 L678.29,209.39 L678.39,209.39 L678.49,209.40 L678.59,209.40 L678.68,209.40 L678.78,209.40 L678.88,209.40 L678.98,209.40 L679.08,209.40 L679.18,209.40 L679.27,209.40 L679.37,209.40 L679.47,209.40 L679.57,209.40 L679.67,209.40 L679.77,209.41 L679.86,209.41 L679.96,209.41 L680.06,209.41 L680.16,209.41 L680.26,209.41 L680.36,209.41 L680.45,209.41 L680.55,209.41 L680.65,209.41 L680.75,209.41 L680.85,209.41 L680.95,209.41 L681.04,209.41 L681.14,209.41 L681.24,209.42 L681.34,209.42 L681.44,209.42 L681.54,209.42 L681.63,209.42 L681.73,209.42 L681.83,209.42 L681.93,209.42 L682.03,209.42 L682.13,209.42 L682.22,209.42 L682.32,209.42 L682.42,209.42 L682.52,209.42 L682.62,209.42 L682.72,209.43 L682.81,209.43 L682.91,209.43 L683.01,209.43 L683.11,209.43 L683.21,209.43 L683.31,209.43 L683.40,209.43 L683.50,209.43 L683.60,209.43 L683.70,209.43 L683.80,209.43 L683.90,209.43 L683.99,209.43 L684.09,209.43 L684.19,209.43 L684.29,209.43 L684.39,209.44 L684.49,209.44 L684.58,209.44 L684.68,209.44 L684.78,209.44 L684.88,209.44 L684.98,209.44 L685.08,209.44 L685.17,209.44 L685.27,209.44 L685.37,209.44 L685.47,209.44 L685.57,209.44 L685.67,209.44 L685.76,209.44 L685.86,209.44 L685.96,209.44 L686.06,209.44 L686.16,209.44 L686.26,209.45 L686.35,209.45 L686.45,209.45 L686.55,209.45 L686.65,209.45 L686.75,209.45 L686.85,209.45 L686.94,209.45 L687.04,209.45 L687.14,209.45 L687.24,209.45 L687.34,209.45 L687.44,209.45 L687.53,209.45 L687.63,209.45 L687.73,209.45 L687.83,209.45 L687.93,209.45 L688.03,209.45 L688.12,209.45 L688.22,209.45 L688.32,209.46 L688.42,209.46 L688.52,209.46 L688.62,209.46 L688.71,209.46 L688.81,209.46 L688.91,209.46 L689.01,209.46 L689.11,209.46 L689.20,209.46 L689.30,209.46 L689.40,209.46 L689.50,209.46 L689.60,209.46 L689.70,209.46 L689.79,209.46 L689.89,209.46 L689.99,209.46 L690.09,209.46 L690.19,209.46 L690.29,209.46 L690.38,209.46 L690.48,209.46 L690.58,209.46 L690.68,209.46 L690.78,209.47 L690.88,209.47 L690.97,209.47 L691.07,209.47 L691.17,209.47 L691.27,209.47 L691.37,209.47 L691.47,209.47 L691.56,209.47 L691.66,209.47 L691.76,209.47 L691.86,209.47 L691.96,209.47 L692.06,209.47 L692.15,209.47 L692.25,209.47 L692.35,209.47 L692.45,209.47" fill="none" stroke="#1e1e1e" stroke-width="1.0" stroke-linejoin="round" />
<text x="613.93" y="72.27" font-size="9.4" text-anchor="start" letter-spacing="-0.45" stroke-width="0.42" >Glc</text>
<line x1="621.41" y1="75.91" x2="632.86" y2="84.47" stroke="#0a0a0a" stroke-width="1.8" />
<text x="652.64" y="33.28" font-size="9.4" text-anchor="start" letter-spacing="-0.45" stroke-width="0.42" >Gal</text>
<line x1="658.11" y1="37.91" x2="647.87" y2="46.55" stroke="#0a0a0a" stroke-width="1.8" />
</g>
<g transform="matrix(1,-0.0009,0.0044,1,-1.0692,0.3240)">
<line x1="393.80" y1="241.27" x2="393.80" y2="449.65" stroke="#0a0a0a" stroke-width="1.35" />
<line x1="388.50" y1="445.45" x2="709.96" y2="445.45" stroke="#0a0a0a" stroke-width="1.35" />
<line x1="388.70" y1="417.85" x2="393.80" y2="417.85" stroke="#0a0a0a" stroke-width="1.25" />
<text x="390.10" y="420.85" font-size="8.6" text-anchor="end" letter-spacing="1.1" stroke-width="0.3" >20000</text>
<line x1="388.70" y1="388.52" x2="393.80" y2="388.52" stroke="#0a0a0a" stroke-width="1.25" />
<text x="390.10" y="391.52" font-size="8.6" text-anchor="end" letter-spacing="1.1" stroke-width="0.3" >40000</text>
<line x1="388.70" y1="359.19" x2="393.80" y2="359.19" stroke="#0a0a0a" stroke-width="1.25" />
<text x="390.10" y="362.19" font-size="8.6" text-anchor="end" letter-spacing="1.1" stroke-width="0.3" >60000</text>
<line x1="388.70" y1="329.86" x2="393.80" y2="329.86" stroke="#0a0a0a" stroke-width="1.25" />
<text x="390.10" y="332.86" font-size="8.6" text-anchor="end" letter-spacing="1.1" stroke-width="0.3" >80000</text>
<line x1="388.70" y1="300.53" x2="393.80" y2="300.53" stroke="#0a0a0a" stroke-width="1.25" />
<text x="390.10" y="303.53" font-size="8.6" text-anchor="end" letter-spacing="1.1" stroke-width="0.3" >100000</text>
<line x1="388.70" y1="271.20" x2="393.80" y2="271.20" stroke="#0a0a0a" stroke-width="1.25" />
<text x="390.10" y="274.20" font-size="8.6" text-anchor="end" letter-spacing="1.1" stroke-width="0.3" >120000</text>
<line x1="388.70" y1="241.87" x2="393.80" y2="241.87" stroke="#0a0a0a" stroke-width="1.25" />
<text x="390.10" y="244.87" font-size="8.6" text-anchor="end" letter-spacing="1.1" stroke-width="0.3" >140000</text>
<line x1="393.36" y1="445.45" x2="393.36" y2="449.95" stroke="#0a0a0a" stroke-width="1.3" />
<line x1="401.26" y1="445.45" x2="401.26" y2="447.85" stroke="#0a0a0a" stroke-width="1.1" />
<line x1="409.16" y1="445.45" x2="409.16" y2="447.85" stroke="#0a0a0a" stroke-width="1.1" />
<line x1="417.06" y1="445.45" x2="417.06" y2="447.85" stroke="#0a0a0a" stroke-width="1.1" />
<line x1="424.96" y1="445.45" x2="424.96" y2="447.85" stroke="#0a0a0a" stroke-width="1.1" />
<line x1="432.86" y1="445.45" x2="432.86" y2="449.95" stroke="#0a0a0a" stroke-width="1.3" />
<line x1="440.76" y1="445.45" x2="440.76" y2="447.85" stroke="#0a0a0a" stroke-width="1.1" />
<line x1="448.66" y1="445.45" x2="448.66" y2="447.85" stroke="#0a0a0a" stroke-width="1.1" />
<line x1="456.56" y1="445.45" x2="456.56" y2="447.85" stroke="#0a0a0a" stroke-width="1.1" />
<line x1="464.46" y1="445.45" x2="464.46" y2="447.85" stroke="#0a0a0a" stroke-width="1.1" />
<line x1="472.36" y1="445.45" x2="472.36" y2="449.95" stroke="#0a0a0a" stroke-width="1.3" />
<line x1="480.26" y1="445.45" x2="480.26" y2="447.85" stroke="#0a0a0a" stroke-width="1.1" />
<line x1="488.16" y1="445.45" x2="488.16" y2="447.85" stroke="#0a0a0a" stroke-width="1.1" />
<line x1="496.06" y1="445.45" x2="496.06" y2="447.85" stroke="#0a0a0a" stroke-width="1.1" />
<line x1="503.96" y1="445.45" x2="503.96" y2="447.85" stroke="#0a0a0a" stroke-width="1.1" />
<line x1="511.86" y1="445.45" x2="511.86" y2="449.95" stroke="#0a0a0a" stroke-width="1.3" />
<line x1="519.76" y1="445.45" x2="519.76" y2="447.85" stroke="#0a0a0a" stroke-width="1.1" />
<line x1="527.66" y1="445.45" x2="527.66" y2="447.85" stroke="#0a0a0a" stroke-width="1.1" />
<line x1="535.56" y1="445.45" x2="535.56" y2="447.85" stroke="#0a0a0a" stroke-width="1.1" />
<line x1="543.46" y1="445.45" x2="543.46" y2="447.85" stroke="#0a0a0a" stroke-width="1.1" />
<line x1="551.36" y1="445.45" x2="551.36" y2="449.95" stroke="#0a0a0a" stroke-width="1.3" />
<line x1="559.26" y1="445.45" x2="559.26" y2="447.85" stroke="#0a0a0a" stroke-width="1.1" />
<line x1="567.16" y1="445.45" x2="567.16" y2="447.85" stroke="#0a0a0a" stroke-width="1.1" />
<line x1="575.06" y1="445.45" x2="575.06" y2="447.85" stroke="#0a0a0a" stroke-width="1.1" />
<line x1="582.96" y1="445.45" x2="582.96" y2="447.85" stroke="#0a0a0a" stroke-width="1.1" />
<line x1="590.86" y1="445.45" x2="590.86" y2="449.95" stroke="#0a0a0a" stroke-width="1.3" />
<line x1="598.76" y1="445.45" x2="598.76" y2="447.85" stroke="#0a0a0a" stroke-width="1.1" />
<line x1="606.66" y1="445.45" x2="606.66" y2="447.85" stroke="#0a0a0a" stroke-width="1.1" />
<line x1="614.56" y1="445.45" x2="614.56" y2="447.85" stroke="#0a0a0a" stroke-width="1.1" />
<line x1="622.46" y1="445.45" x2="622.46" y2="447.85" stroke="#0a0a0a" stroke-width="1.1" />
<line x1="630.36" y1="445.45" x2="630.36" y2="449.95" stroke="#0a0a0a" stroke-width="1.3" />
<line x1="638.26" y1="445.45" x2="638.26" y2="447.85" stroke="#0a0a0a" stroke-width="1.1" />
<line x1="646.16" y1="445.45" x2="646.16" y2="447.85" stroke="#0a0a0a" stroke-width="1.1" />
<line x1="654.06" y1="445.45" x2="654.06" y2="447.85" stroke="#0a0a0a" stroke-width="1.1" />
<line x1="661.96" y1="445.45" x2="661.96" y2="447.85" stroke="#0a0a0a" stroke-width="1.1" />
<line x1="669.86" y1="445.45" x2="669.86" y2="449.95" stroke="#0a0a0a" stroke-width="1.3" />
<line x1="677.76" y1="445.45" x2="677.76" y2="447.85" stroke="#0a0a0a" stroke-width="1.1" />
<line x1="685.66" y1="445.45" x2="685.66" y2="447.85" stroke="#0a0a0a" stroke-width="1.1" />
<line x1="693.56" y1="445.45" x2="693.56" y2="447.85" stroke="#0a0a0a" stroke-width="1.1" />
<line x1="701.46" y1="445.45" x2="701.46" y2="447.85" stroke="#0a0a0a" stroke-width="1.1" />
<line x1="709.36" y1="445.45" x2="709.36" y2="449.95" stroke="#0a0a0a" stroke-width="1.3" />
<line x1="709.36" y1="445.45" x2="709.36" y2="444.05" stroke="#0a0a0a" stroke-width="1.3" />
<text x="393.81" y="461.85" font-size="9.2" text-anchor="middle" letter-spacing="1.0" stroke-width="0.3" >10</text>
<text x="433.31" y="461.85" font-size="9.2" text-anchor="middle" letter-spacing="1.0" stroke-width="0.3" >12</text>
<text x="472.81" y="461.85" font-size="9.2" text-anchor="middle" letter-spacing="1.0" stroke-width="0.3" >14</text>
<text x="512.31" y="461.85" font-size="9.2" text-anchor="middle" letter-spacing="1.0" stroke-width="0.3" >16</text>
<text x="551.81" y="461.85" font-size="9.2" text-anchor="middle" letter-spacing="1.0" stroke-width="0.3" >18</text>
<text x="591.31" y="461.85" font-size="9.2" text-anchor="middle" letter-spacing="1.0" stroke-width="0.3" >20</text>
<text x="630.81" y="461.85" font-size="9.2" text-anchor="middle" letter-spacing="1.0" stroke-width="0.3" >22</text>
<text x="670.31" y="461.85" font-size="9.2" text-anchor="middle" letter-spacing="1.0" stroke-width="0.3" >24</text>
<text x="709.81" y="461.85" font-size="9.2" text-anchor="middle" letter-spacing="1.0" stroke-width="0.3" >26</text>
<text transform="translate(356.36,343.20) rotate(-90)" font-size="10.2" text-anchor="middle" stroke-width="0.3">Abundance</text>
<text x="561.76" y="478.58" font-size="10.3" text-anchor="middle" stroke-width="0.3" >Time&#160;&#160;(min)</text>
<text x="400.40" y="266.54" font-size="24" text-anchor="start" stroke-width="0.5" >D</text>
<path d="M396.92,443.40 L397.01,443.40 L397.11,443.40 L397.21,443.40 L397.31,443.40 L397.41,443.40 L397.51,443.40 L397.61,443.40 L397.70,443.40 L397.80,443.40 L397.90,443.40 L398.00,443.40 L398.10,443.40 L398.20,443.40 L398.30,443.40 L398.40,443.40 L398.50,443.40 L398.59,443.40 L398.69,443.40 L398.79,443.40 L398.89,443.40 L398.99,443.40 L399.09,443.40 L399.19,443.40 L399.28,443.40 L399.38,443.40 L399.48,443.40 L399.58,443.40 L399.68,443.40 L399.78,443.40 L399.88,443.40 L399.98,443.40 L400.07,443.40 L400.17,443.40 L400.27,443.40 L400.37,443.40 L400.47,443.40 L400.57,443.40 L400.67,443.40 L400.77,443.40 L400.87,443.40 L400.96,443.40 L401.06,443.40 L401.16,443.40 L401.26,443.40 L401.36,443.40 L401.46,443.40 L401.56,443.40 L401.66,443.40 L401.75,443.40 L401.85,443.40 L401.95,443.40 L402.05,443.40 L402.15,443.40 L402.25,443.40 L402.35,443.40 L402.44,443.40 L402.54,443.40 L402.64,443.40 L402.74,443.40 L402.84,443.40 L402.94,443.40 L403.04,443.40 L403.14,443.40 L403.24,443.40 L403.33,443.40 L403.43,443.40 L403.53,443.40 L403.63,443.40 L403.73,443.40 L403.83,443.40 L403.93,443.40 L404.02,443.40 L404.12,443.40 L404.22,443.40 L404.32,443.40 L404.42,443.40 L404.52,443.40 L404.62,443.40 L404.72,443.40 L404.81,443.40 L404.91,443.40 L405.01,443.40 L405.11,443.40 L405.21,443.40 L405.31,443.40 L405.41,443.40 L405.51,443.40 L405.61,443.40 L405.70,443.40 L405.80,443.40 L405.90,443.40 L406.00,443.40 L406.10,443.40 L406.20,443.40 L406.30,443.40 L406.40,443.40 L406.49,443.40 L406.59,443.40 L406.69,443.40 L406.79,443.40 L406.89,443.40 L406.99,443.40 L407.09,443.40 L407.19,443.40 L407.28,443.40 L407.38,443.40 L407.48,443.40 L407.58,443.40 L407.68,443.40 L407.78,443.40 L407.88,443.40 L407.98,443.40 L408.07,443.40 L408.17,443.40 L408.27,443.40 L408.37,443.40 L408.47,443.40 L408.57,443.40 L408.67,443.40 L408.76,443.40 L408.86,443.40 L408.96,443.40 L409.06,443.40 L409.16,443.40 L409.26,443.40 L409.36,443.40 L409.46,443.40 L409.56,443.40 L409.65,443.40 L409.75,443.40 L409.85,443.40 L409.95,443.40 L410.05,443.40 L410.15,443.40 L410.25,443.40 L410.35,443.40 L410.44,443.40 L410.54,443.40 L410.64,443.40 L410.74,443.40 L410.84,443.40 L410.94,443.40 L411.04,443.40 L411.13,443.40 L411.23,443.40 L411.33,443.40 L411.43,443.40 L411.53,443.40 L411.63,443.40 L411.73,443.40 L411.83,443.40 L411.93,443.40 L412.02,443.40 L412.12,443.40 L412.22,443.40 L412.32,443.40 L412.42,443.40 L412.52,443.40 L412.62,443.40 L412.72,443.40 L412.81,443.40 L412.91,443.40 L413.01,443.40 L413.11,443.40 L413.21,443.40 L413.31,443.40 L413.41,443.40 L413.50,443.40 L413.60,443.40 L413.70,443.40 L413.80,443.40 L413.90,443.40 L414.00,443.40 L414.10,443.40 L414.20,443.40 L414.30,443.40 L414.39,443.40 L414.49,443.40 L414.59,443.40 L414.69,443.40 L414.79,443.40 L414.89,443.40 L414.99,443.40 L415.09,443.40 L415.18,443.40 L415.28,443.40 L415.38,443.40 L415.48,443.40 L415.58,443.40 L415.68,443.40 L415.78,443.40 L415.88,443.40 L415.97,443.40 L416.07,443.40 L416.17,443.40 L416.27,443.40 L416.37,443.40 L416.47,443.40 L416.57,443.40 L416.67,443.40 L416.76,443.40 L416.86,443.40 L416.96,443.40 L417.06,443.40 L417.16,443.40 L417.26,443.40 L417.36,443.40 L417.45,443.40 L417.55,443.40 L417.65,443.40 L417.75,443.40 L417.85,443.40 L417.95,443.40 L418.05,443.40 L418.15,443.40 L418.25,443.40 L418.34,443.40 L418.44,443.40 L418.54,443.40 L418.64,443.40 L418.74,443.40 L418.84,443.40 L418.94,443.40 L419.04,443.40 L419.13,443.40 L419.23,443.40 L419.33,443.40 L419.43,443.40 L419.53,443.40 L419.63,443.40 L419.73,443.40 L419.82,443.40 L419.92,443.40 L420.02,443.40 L420.12,443.40 L420.22,443.40 L420.32,443.40 L420.42,443.40 L420.52,443.40 L420.62,443.40 L420.71,443.40 L420.81,443.40 L420.91,443.40 L421.01,443.40 L421.11,443.40 L421.21,443.40 L421.31,443.40 L421.41,443.40 L421.50,443.40 L421.60,443.40 L421.70,443.40 L421.80,443.40 L421.90,443.40 L422.00,443.40 L422.10,443.40 L422.19,443.40 L422.29,443.40 L422.39,443.40 L422.49,443.40 L422.59,443.40 L422.69,443.40 L422.79,443.40 L422.89,443.40 L422.99,443.40 L423.08,443.40 L423.18,443.40 L423.28,443.40 L423.38,443.40 L423.48,443.40 L423.58,443.40 L423.68,443.40 L423.77,443.40 L423.87,443.40 L423.97,443.40 L424.07,443.40 L424.17,443.40 L424.27,443.40 L424.37,443.40 L424.47,443.40 L424.56,443.40 L424.66,443.40 L424.76,443.40 L424.86,443.40 L424.96,443.40 L425.06,443.40 L425.16,443.40 L425.26,443.40 L425.36,443.40 L425.45,443.40 L425.55,443.40 L425.65,443.40 L425.75,443.40 L425.85,443.40 L425.95,443.40 L426.05,443.40 L426.15,443.40 L426.24,443.40 L426.34,443.40 L426.44,443.40 L426.54,443.40 L426.64,443.40 L426.74,443.40 L426.84,443.40 L426.94,443.40 L427.03,443.40 L427.13,443.40 L427.23,443.40 L427.33,443.40 L427.43,443.40 L427.53,443.40 L427.63,443.40 L427.73,443.40 L427.82,443.40 L427.92,443.40 L428.02,443.40 L428.12,443.40 L428.22,443.40 L428.32,443.40 L428.42,443.40 L428.51,443.40 L428.61,443.40 L428.71,443.40 L428.81,443.40 L428.91,443.40 L429.01,443.40 L429.11,443.40 L429.21,443.40 L429.31,443.40 L429.40,443.40 L429.50,443.40 L429.60,443.40 L429.70,443.40 L429.80,443.40 L429.90,443.40 L430.00,443.40 L430.10,443.40 L430.19,443.40 L430.29,443.40 L430.39,443.40 L430.49,443.40 L430.59,443.40 L430.69,443.40 L430.79,443.40 L430.88,443.40 L430.98,443.40 L431.08,443.40 L431.18,443.40 L431.28,443.40 L431.38,443.40 L431.48,443.40 L431.58,443.40 L431.68,443.40 L431.77,443.40 L431.87,443.40 L431.97,443.40 L432.07,443.40 L432.17,443.40 L432.27,443.40 L432.37,443.40 L432.47,443.40 L432.56,443.40 L432.66,443.40 L432.76,443.40 L432.86,443.40 L432.96,443.40 L433.06,443.40 L433.16,443.40 L433.25,443.40 L433.35,443.40 L433.45,443.40 L433.55,443.40 L433.65,443.40 L433.75,443.40 L433.85,443.40 L433.95,443.40 L434.05,443.40 L434.14,443.40 L434.24,443.40 L434.34,443.40 L434.44,443.40 L434.54,443.40 L434.64,443.40 L434.74,443.40 L434.84,443.40 L434.93,443.40 L435.03,443.40 L435.13,443.40 L435.23,443.40 L435.33,443.40 L435.43,443.40 L435.53,443.40 L435.62,443.40 L435.72,443.40 L435.82,443.40 L435.92,443.40 L436.02,443.40 L436.12,443.40 L436.22,443.40 L436.32,443.40 L436.42,443.40 L436.51,443.40 L436.61,443.40 L436.71,443.40 L436.81,443.40 L436.91,443.40 L437.01,443.40 L437.11,443.39 L437.20,443.39 L437.30,443.39 L437.40,443.38 L437.50,443.37 L437.60,443.36 L437.70,443.34 L437.80,443.32 L437.90,443.29 L438.00,443.24 L438.09,443.17 L438.19,443.09 L438.29,442.97 L438.39,442.82 L438.49,442.63 L438.59,442.37 L438.69,442.05 L438.79,441.65 L438.88,441.14 L438.98,440.52 L439.08,439.76 L439.18,438.85 L439.28,437.77 L439.38,436.50 L439.48,435.03 L439.57,433.35 L439.67,431.45 L439.77,429.34 L439.87,427.01 L439.97,424.49 L440.07,421.79 L440.17,418.96 L440.27,416.03 L440.37,413.06 L440.46,410.09 L440.56,407.21 L440.66,404.46 L440.76,401.92 L440.86,399.65 L440.96,397.72 L441.06,396.18 L441.16,395.08 L441.25,394.44 L441.35,394.28 L441.45,394.37 L441.55,394.60 L441.65,394.96 L441.75,395.45 L441.85,396.07 L441.95,396.81 L442.04,397.66 L442.14,398.62 L442.24,399.69 L442.34,400.85 L442.44,402.09 L442.54,403.40 L442.64,404.78 L442.74,406.22 L442.83,407.70 L442.93,409.22 L443.03,410.76 L443.13,412.32 L443.23,413.89 L443.33,415.46 L443.43,417.01 L443.52,418.55 L443.62,420.06 L443.72,421.55 L443.82,422.99 L443.92,424.39 L444.02,425.75 L444.12,427.05 L444.22,428.30 L444.31,429.49 L444.41,430.62 L444.51,431.70 L444.61,432.71 L444.71,433.66 L444.81,434.55 L444.91,435.39 L445.01,436.16 L445.11,436.88 L445.20,437.54 L445.30,438.15 L445.40,438.71 L445.50,439.22 L445.60,439.69 L445.70,440.11 L445.80,440.49 L445.90,440.84 L445.99,441.15 L446.09,441.43 L446.19,441.68 L446.29,441.90 L446.39,442.10 L446.49,442.27 L446.59,442.42 L446.69,442.56 L446.78,442.68 L446.88,442.78 L446.98,442.87 L447.08,442.95 L447.18,443.02 L447.28,443.07 L447.38,443.12 L447.48,443.17 L447.57,443.21 L447.67,443.24 L447.77,443.26 L447.87,443.29 L447.97,443.31 L448.07,443.32 L448.17,443.34 L448.26,443.35 L448.36,443.36 L448.46,443.36 L448.56,443.37 L448.66,443.38 L448.76,443.38 L448.86,443.38 L448.96,443.39 L449.06,443.39 L449.15,443.39 L449.25,443.39 L449.35,443.39 L449.45,443.40 L449.55,443.40 L449.65,443.40 L449.75,443.40 L449.85,443.40 L449.94,443.40 L450.04,443.40 L450.14,443.40 L450.24,443.40 L450.34,443.40 L450.44,443.40 L450.54,443.40 L450.63,443.40 L450.73,443.40 L450.83,443.40 L450.93,443.40 L451.03,443.40 L451.13,443.40 L451.23,443.40 L451.33,443.40 L451.43,443.40 L451.52,443.40 L451.62,443.40 L451.72,443.40 L451.82,443.40 L451.92,443.40 L452.02,443.40 L452.12,443.40 L452.22,443.40 L452.31,443.40 L452.41,443.40 L452.51,443.40 L452.61,443.40 L452.71,443.40 L452.81,443.40 L452.91,443.40 L453.00,443.40 L453.10,443.40 L453.20,443.40 L453.30,443.40 L453.40,443.40 L453.50,443.40 L453.60,443.40 L453.70,443.40 L453.79,443.40 L453.89,443.40 L453.99,443.40 L454.09,443.40 L454.19,443.40 L454.29,443.40 L454.39,443.40 L454.49,443.40 L454.59,443.40 L454.68,443.40 L454.78,443.40 L454.88,443.40 L454.98,443.40 L455.08,443.40 L455.18,443.40 L455.28,443.40 L455.38,443.40 L455.47,443.40 L455.57,443.40 L455.67,443.40 L455.77,443.40 L455.87,443.40 L455.97,443.40 L456.07,443.40 L456.17,443.40 L456.26,443.40 L456.36,443.40 L456.46,443.40 L456.56,443.40 L456.66,443.40 L456.76,443.40 L456.86,443.40 L456.95,443.40 L457.05,443.40 L457.15,443.40 L457.25,443.40 L457.35,443.40 L457.45,443.40 L457.55,443.40 L457.65,443.40 L457.75,443.40 L457.84,443.40 L457.94,443.40 L458.04,443.40 L458.14,443.40 L458.24,443.40 L458.34,443.40 L458.44,443.40 L458.54,443.40 L458.63,443.40 L458.73,443.40 L458.83,443.40 L458.93,443.40 L459.03,443.40 L459.13,443.40 L459.23,443.40 L459.33,443.40 L459.42,443.40 L459.52,443.40 L459.62,443.40 L459.72,443.40 L459.82,443.40 L459.92,443.40 L460.02,443.40 L460.12,443.40 L460.21,443.40 L460.31,443.40 L460.41,443.40 L460.51,443.40 L460.61,443.40 L460.71,443.40 L460.81,443.40 L460.91,443.40 L461.00,443.40 L461.10,443.40 L461.20,443.40 L461.30,443.40 L461.40,443.40 L461.50,443.40 L461.60,443.40 L461.70,443.40 L461.79,443.40 L461.89,443.40 L461.99,443.40 L462.09,443.40 L462.19,443.40 L462.29,443.40 L462.39,443.40 L462.49,443.40 L462.58,443.40 L462.68,443.40 L462.78,443.40 L462.88,443.40 L462.98,443.40 L463.08,443.40 L463.18,443.40 L463.27,443.40 L463.37,443.40 L463.47,443.40 L463.57,443.40 L463.67,443.40 L463.77,443.40 L463.87,443.40 L463.97,443.40 L464.06,443.40 L464.16,443.40 L464.26,443.40 L464.36,443.40 L464.46,443.40 L464.56,443.40 L464.66,443.40 L464.76,443.40 L464.86,443.40 L464.95,443.40 L465.05,443.40 L465.15,443.40 L465.25,443.40 L465.35,443.40 L465.45,443.40 L465.55,443.40 L465.64,443.40 L465.74,443.40 L465.84,443.40 L465.94,443.40 L466.04,443.40 L466.14,443.40 L466.24,443.40 L466.34,443.40 L466.44,443.40 L466.53,443.40 L466.63,443.40 L466.73,443.40 L466.83,443.40 L466.93,443.40 L467.03,443.40 L467.13,443.40 L467.23,443.40 L467.32,443.40 L467.42,443.40 L467.52,443.40 L467.62,443.40 L467.72,443.40 L467.82,443.40 L467.92,443.40 L468.01,443.40 L468.11,443.40 L468.21,443.40 L468.31,443.40 L468.41,443.40 L468.51,443.40 L468.61,443.40 L468.71,443.40 L468.81,443.40 L468.90,443.40 L469.00,443.40 L469.10,443.40 L469.20,443.40 L469.30,443.40 L469.40,443.40 L469.50,443.40 L469.60,443.40 L469.69,443.40 L469.79,443.40 L469.89,443.40 L469.99,443.40 L470.09,443.40 L470.19,443.40 L470.29,443.40 L470.38,443.40 L470.48,443.40 L470.58,443.40 L470.68,443.40 L470.78,443.40 L470.88,443.40 L470.98,443.40 L471.08,443.40 L471.18,443.40 L471.27,443.40 L471.37,443.40 L471.47,443.40 L471.57,443.40 L471.67,443.40 L471.77,443.40 L471.87,443.40 L471.97,443.40 L472.06,443.40 L472.16,443.40 L472.26,443.40 L472.36,443.40 L472.46,443.40 L472.56,443.40 L472.66,443.40 L472.75,443.40 L472.85,443.40 L472.95,443.40 L473.05,443.40 L473.15,443.40 L473.25,443.40 L473.35,443.40 L473.45,443.40 L473.54,443.40 L473.64,443.40 L473.74,443.40 L473.84,443.40 L473.94,443.40 L474.04,443.40 L474.14,443.40 L474.24,443.40 L474.34,443.40 L474.43,443.40 L474.53,443.40 L474.63,443.40 L474.73,443.40 L474.83,443.40 L474.93,443.40 L475.03,443.40 L475.12,443.40 L475.22,443.40 L475.32,443.40 L475.42,443.40 L475.52,443.40 L475.62,443.40 L475.72,443.40 L475.82,443.40 L475.92,443.40 L476.01,443.40 L476.11,443.40 L476.21,443.40 L476.31,443.40 L476.41,443.40 L476.51,443.40 L476.61,443.40 L476.70,443.40 L476.80,443.40 L476.90,443.40 L477.00,443.40 L477.10,443.40 L477.20,443.40 L477.30,443.40 L477.40,443.40 L477.50,443.40 L477.59,443.40 L477.69,443.40 L477.79,443.40 L477.89,443.40 L477.99,443.40 L478.09,443.40 L478.19,443.40 L478.29,443.40 L478.38,443.40 L478.48,443.40 L478.58,443.40 L478.68,443.40 L478.78,443.40 L478.88,443.40 L478.98,443.40 L479.08,443.40 L479.17,443.40 L479.27,443.40 L479.37,443.40 L479.47,443.40 L479.57,443.40 L479.67,443.40 L479.77,443.40 L479.87,443.40 L479.96,443.40 L480.06,443.40 L480.16,443.40 L480.26,443.40 L480.36,443.40 L480.46,443.40 L480.56,443.40 L480.66,443.40 L480.75,443.40 L480.85,443.40 L480.95,443.40 L481.05,443.40 L481.15,443.40 L481.25,443.40 L481.35,443.40 L481.45,443.40 L481.54,443.40 L481.64,443.40 L481.74,443.40 L481.84,443.40 L481.94,443.40 L482.04,443.40 L482.14,443.40 L482.24,443.40 L482.33,443.40 L482.43,443.40 L482.53,443.40 L482.63,443.40 L482.73,443.40 L482.83,443.40 L482.93,443.40 L483.02,443.40 L483.12,443.40 L483.22,443.40 L483.32,443.40 L483.42,443.40 L483.52,443.40 L483.62,443.40 L483.72,443.40 L483.81,443.40 L483.91,443.40 L484.01,443.40 L484.11,443.40 L484.21,443.40 L484.31,443.40 L484.41,443.40 L484.51,443.40 L484.61,443.40 L484.70,443.40 L484.80,443.40 L484.90,443.40 L485.00,443.40 L485.10,443.40 L485.20,443.40 L485.22,442.71 L488.72,442.32 L489.53,440.92 L490.05,435.62 L490.67,431.72 L491.58,430.32 L492.59,426.12 L493.42,420.12 L493.96,410.12 L494.41,400.12 L495.05,390.12 L495.69,381.02 L496.25,368.12 L496.59,357.82 L496.95,368.12 L497.50,380.12 L498.26,388.22 L498.97,385.63 L499.58,384.33 L500.08,384.63 L500.35,390.13 L500.53,396.13 L500.69,405.13 L500.82,420.13 L501.19,428.13 L501.85,435.13 L502.53,439.63 L503.42,441.93 L505.12,442.63 L506.12,442.73 L506.13,443.40 L506.23,443.40 L506.33,443.40 L506.43,443.40 L506.53,443.40 L506.63,443.40 L506.73,443.40 L506.82,443.40 L506.92,443.40 L507.02,443.40 L507.12,443.40 L507.22,443.40 L507.32,443.40 L507.42,443.39 L507.52,443.39 L507.61,443.38 L507.71,443.37 L507.81,443.35 L507.91,443.32 L508.01,443.28 L508.11,443.21 L508.21,443.12 L508.31,442.98 L508.40,442.80 L508.50,442.54 L508.60,442.19 L508.70,441.73 L508.80,441.13 L508.90,440.35 L509.00,439.38 L509.10,438.18 L509.19,436.72 L509.29,434.99 L509.39,432.98 L509.49,430.69 L509.59,428.13 L509.69,425.34 L509.79,422.37 L509.88,419.29 L509.98,416.19 L510.08,413.17 L510.18,410.34 L510.28,407.80 L510.38,405.66 L510.48,404.01 L510.58,402.92 L510.68,402.45 L510.77,402.58 L510.87,403.21 L510.97,404.32 L511.07,405.86 L511.17,407.79 L511.27,410.03 L511.37,412.51 L511.47,415.16 L511.56,417.90 L511.66,420.65 L511.76,423.36 L511.86,425.96 L511.96,428.41 L512.06,430.67 L512.16,432.73 L512.25,434.56 L512.35,436.17 L512.45,437.56 L512.55,438.74 L512.65,439.72 L512.75,440.54 L512.85,441.20 L512.95,441.73 L513.04,442.14 L513.14,442.47 L513.24,442.72 L513.34,442.91 L513.44,443.05 L513.54,443.15 L513.64,443.23 L513.74,443.28 L513.84,443.32 L513.93,443.35 L514.03,443.36 L514.13,443.38 L514.23,443.38 L514.33,443.39 L514.43,443.39 L514.53,443.40 L514.62,443.40 L514.72,443.40 L514.82,443.40 L514.92,443.40 L515.02,443.40 L515.12,443.40 L515.22,443.40 L515.32,443.40 L515.41,443.40 L515.51,443.40 L515.61,443.40 L515.71,443.40 L515.81,443.40 L515.91,443.40 L516.01,443.40 L516.11,443.40 L516.20,443.40 L516.30,443.40 L516.40,443.40 L516.50,443.40 L516.60,443.40 L516.70,443.40 L516.80,443.40 L516.90,443.40 L517.00,443.40 L517.09,443.40 L517.19,443.40 L517.29,443.40 L517.39,443.40 L517.49,443.40 L517.59,443.40 L517.69,443.40 L517.79,443.40 L517.88,443.40 L517.98,443.40 L518.08,443.40 L518.18,443.40 L518.28,443.40 L518.38,443.40 L518.48,443.40 L518.58,443.40 L518.67,443.40 L518.77,443.40 L518.87,443.40 L518.97,443.40 L519.07,443.40 L519.17,443.40 L519.27,443.40 L519.37,443.40 L519.46,443.40 L519.56,443.40 L519.66,443.40 L519.76,443.40 L519.86,443.40 L519.96,443.40 L520.06,443.40 L520.16,443.40 L520.25,443.40 L520.35,443.40 L520.45,443.40 L520.55,443.40 L520.65,443.40 L520.75,443.40 L520.85,443.40 L520.95,443.40 L521.04,443.40 L521.14,443.40 L521.24,443.40 L521.34,443.40 L521.44,443.40 L521.54,443.40 L521.64,443.40 L521.74,443.40 L521.83,443.40 L521.93,443.40 L522.03,443.40 L522.13,443.40 L522.23,443.40 L522.33,443.40 L522.43,443.40 L522.52,443.40 L522.62,443.40 L522.72,443.40 L522.82,443.40 L522.92,443.40 L523.02,443.40 L523.12,443.40 L523.22,443.40 L523.31,443.40 L523.41,443.40 L523.51,443.40 L523.61,443.40 L523.71,443.40 L523.81,443.40 L523.91,443.40 L524.01,443.40 L524.11,443.40 L524.20,443.40 L524.30,443.40 L524.40,443.40 L524.50,443.40 L524.60,443.40 L524.70,443.40 L524.80,443.40 L524.89,443.40 L524.99,443.40 L525.09,443.40 L525.19,443.40 L525.29,443.40 L525.39,443.40 L525.49,443.40 L525.59,443.40 L525.68,443.40 L525.78,443.40 L525.88,443.40 L525.98,443.40 L526.08,443.40 L526.18,443.40 L526.28,443.40 L526.38,443.40 L526.48,443.40 L526.57,443.40 L526.67,443.40 L526.77,443.40 L526.87,443.40 L526.97,443.40 L527.07,443.40 L527.17,443.40 L527.27,443.40 L527.36,443.40 L527.46,443.40 L527.56,443.40 L527.66,443.40 L527.76,443.40 L527.86,443.40 L527.96,443.40 L528.06,443.40 L528.15,443.40 L528.25,443.40 L528.35,443.40 L528.45,443.40 L528.55,443.40 L528.65,443.40 L528.75,443.40 L528.85,443.40 L528.94,443.40 L529.04,443.40 L529.14,443.40 L529.24,443.40 L529.34,443.40 L529.44,443.40 L529.54,443.40 L529.63,443.40 L529.73,443.40 L529.83,443.40 L529.93,443.40 L530.03,443.40 L530.13,443.40 L530.23,443.40 L530.33,443.40 L530.42,443.40 L530.52,443.40 L530.62,443.40 L530.72,443.40 L530.82,443.40 L530.92,443.40 L531.02,443.40 L531.12,443.40 L531.22,443.40 L531.31,443.40 L531.41,443.40 L531.51,443.40 L531.61,443.40 L531.71,443.40 L531.81,443.40 L531.91,443.40 L532.00,443.40 L532.10,443.40 L532.20,443.40 L532.30,443.40 L532.40,443.40 L532.50,443.40 L532.60,443.40 L532.70,443.40 L532.79,443.40 L532.89,443.40 L532.99,443.40 L533.09,443.40 L533.19,443.40 L533.29,443.40 L533.39,443.40 L533.49,443.40 L533.59,443.40 L533.68,443.40 L533.78,443.40 L533.88,443.40 L533.98,443.40 L534.08,443.40 L534.18,443.40 L534.28,443.40 L534.38,443.40 L534.47,443.40 L534.57,443.40 L534.67,443.40 L534.77,443.40 L534.87,443.40 L534.97,443.40 L535.07,443.40 L535.16,443.40 L535.26,443.40 L535.36,443.40 L535.46,443.40 L535.56,443.40 L535.66,443.40 L535.76,443.40 L535.86,443.40 L535.95,443.40 L536.05,443.40 L536.15,443.40 L536.25,443.40 L536.35,443.40 L536.45,443.40 L536.55,443.40 L536.65,443.40 L536.75,443.40 L536.84,443.40 L536.94,443.40 L537.04,443.40 L537.14,443.40 L537.24,443.40 L537.34,443.40 L537.44,443.40 L537.54,443.40 L537.63,443.40 L537.73,443.40 L537.83,443.40 L537.93,443.40 L538.03,443.40 L538.13,443.40 L538.23,443.40 L538.33,443.40 L538.42,443.40 L538.52,443.40 L538.62,443.40 L538.72,443.40 L538.82,443.40 L538.92,443.40 L539.02,443.40 L539.12,443.40 L539.21,443.40 L539.31,443.40 L539.41,443.40 L539.51,443.40 L539.61,443.40 L539.71,443.40 L539.81,443.40 L539.91,443.40 L540.00,443.40 L540.10,443.40 L540.20,443.40 L540.30,443.40 L540.40,443.40 L540.50,443.40 L540.60,443.40 L540.70,443.40 L540.79,443.40 L540.89,443.40 L540.99,443.40 L541.09,443.40 L541.19,443.40 L541.29,443.40 L541.39,443.40 L541.49,443.40 L541.58,443.40 L541.68,443.40 L541.78,443.40 L541.88,443.40 L541.98,443.40 L542.08,443.40 L542.18,443.40 L542.27,443.40 L542.37,443.40 L542.47,443.40 L542.57,443.40 L542.67,443.40 L542.77,443.40 L542.87,443.40 L542.97,443.40 L543.06,443.40 L543.16,443.40 L543.26,443.40 L543.36,443.40 L543.46,443.40 L543.56,443.40 L543.66,443.40 L543.76,443.40 L543.86,443.40 L543.95,443.40 L544.05,443.40 L544.15,443.40 L544.25,443.40 L544.35,443.40 L544.45,443.40 L544.55,443.40 L544.64,443.40 L544.74,443.40 L544.84,443.40 L544.94,443.40 L545.04,443.40 L545.14,443.40 L545.24,443.40 L545.34,443.40 L545.43,443.40 L545.53,443.40 L545.63,443.40 L545.73,443.40 L545.83,443.40 L545.93,443.40 L546.03,443.40 L546.13,443.40 L546.23,443.40 L546.32,443.40 L546.42,443.40 L546.52,443.40 L546.62,443.40 L546.72,443.40 L546.82,443.40 L546.92,443.40 L547.02,443.40 L547.11,443.40 L547.21,443.40 L547.31,443.40 L547.41,443.40 L547.51,443.40 L547.61,443.40 L547.71,443.40 L547.81,443.40 L547.90,443.40 L548.00,443.40 L548.10,443.40 L548.20,443.40 L548.30,443.40 L548.40,443.40 L548.50,443.40 L548.60,443.40 L548.69,443.40 L548.79,443.40 L548.89,443.40 L548.99,443.40 L549.09,443.40 L549.19,443.40 L549.29,443.40 L549.38,443.40 L549.48,443.40 L549.58,443.40 L549.68,443.40 L549.78,443.40 L549.88,443.40 L549.98,443.40 L550.08,443.40 L550.17,443.40 L550.27,443.40 L550.37,443.40 L550.47,443.40 L550.57,443.40 L550.67,443.40 L550.77,443.40 L550.87,443.40 L550.97,443.40 L551.06,443.40 L551.16,443.40 L551.26,443.40 L551.36,443.40 L551.46,443.40 L551.56,443.40 L551.66,443.40 L551.75,443.40 L551.85,443.40 L551.95,443.40 L552.05,443.40 L552.15,443.40 L552.25,443.40 L552.35,443.40 L552.45,443.40 L552.54,443.40 L552.64,443.40 L552.74,443.40 L552.84,443.40 L552.94,443.40 L553.04,443.40 L553.14,443.40 L553.24,443.40 L553.34,443.40 L553.43,443.40 L553.53,443.40 L553.63,443.40 L553.73,443.40 L553.83,443.40 L553.93,443.40 L554.03,443.40 L554.12,443.40 L554.22,443.40 L554.32,443.40 L554.42,443.40 L554.52,443.40 L554.62,443.40 L554.72,443.40 L554.82,443.40 L554.91,443.40 L555.01,443.40 L555.11,443.40 L555.21,443.40 L555.31,443.40 L555.41,443.40 L555.51,443.40 L555.61,443.40 L555.70,443.40 L555.80,443.40 L555.90,443.40 L556.00,443.40 L556.10,443.40 L556.20,443.40 L556.30,443.40 L556.40,443.40 L556.50,443.40 L556.59,443.40 L556.69,443.40 L556.79,443.40 L556.89,443.40 L556.99,443.40 L557.09,443.40 L557.19,443.40 L557.29,443.40 L557.38,443.40 L557.48,443.40 L557.58,443.40 L557.68,443.40 L557.78,443.40 L557.88,443.40 L557.98,443.40 L558.08,443.40 L558.17,443.40 L558.27,443.40 L558.37,443.40 L558.47,443.40 L558.57,443.40 L558.67,443.40 L558.77,443.40 L558.87,443.40 L558.96,443.40 L559.06,443.40 L559.16,443.40 L559.26,443.40 L559.36,443.40 L559.46,443.40 L559.56,443.40 L559.66,443.40 L559.75,443.40 L559.85,443.40 L559.95,443.40 L560.05,443.40 L560.15,443.40 L560.25,443.40 L560.35,443.40 L560.45,443.40 L560.54,443.40 L560.64,443.40 L560.74,443.40 L560.84,443.40 L560.94,443.40 L561.04,443.40 L561.14,443.40 L561.24,443.40 L561.33,443.40 L561.43,443.40 L561.53,443.40 L561.63,443.40 L561.73,443.40 L561.83,443.40 L561.93,443.40 L562.02,443.40 L562.12,443.40 L562.22,443.40 L562.32,443.40 L562.42,443.40 L562.52,443.40 L562.62,443.40 L562.72,443.40 L562.81,443.40 L562.91,443.40 L563.01,443.40 L563.11,443.40 L563.21,443.40 L563.31,443.40 L563.41,443.40 L563.51,443.40 L563.61,443.40 L563.70,443.40 L563.80,443.40 L563.90,443.40 L564.00,443.40 L564.10,443.40 L564.20,443.40 L564.30,443.40 L564.39,443.40 L564.49,443.40 L564.59,443.40 L564.69,443.40 L564.79,443.40 L564.89,443.40 L564.99,443.40 L565.09,443.40 L565.18,443.40 L565.28,443.40 L565.38,443.40 L565.48,443.40 L565.58,443.40 L565.68,443.40 L565.78,443.40 L565.88,443.40 L565.98,443.40 L566.07,443.40 L566.17,443.40 L566.27,443.40 L566.37,443.40 L566.47,443.40 L566.57,443.40 L566.67,443.40 L566.77,443.40 L566.86,443.40 L566.96,443.40 L567.06,443.40 L567.16,443.40 L567.26,443.40 L567.36,443.40 L567.46,443.40 L567.56,443.40 L567.65,443.40 L567.75,443.40 L567.85,443.40 L567.95,443.40 L568.05,443.40 L568.15,443.40 L568.25,443.40 L568.35,443.40 L568.44,443.40 L568.54,443.40 L568.64,443.40 L568.74,443.40 L568.84,443.40 L568.94,443.40 L569.04,443.40 L569.13,443.39 L569.23,443.39 L569.33,443.38 L569.43,443.36 L569.53,443.34 L569.63,443.30 L569.73,443.25 L569.83,443.18 L569.92,443.09 L570.02,442.97 L570.12,442.82 L570.22,442.64 L570.32,442.43 L570.42,442.20 L570.52,441.96 L570.62,441.71 L570.72,441.47 L570.81,441.26 L570.91,441.10 L571.01,440.99 L571.11,440.94 L571.21,440.95 L571.31,441.00 L571.41,441.09 L571.50,441.20 L571.60,441.35 L571.70,441.51 L571.80,441.69 L571.90,441.87 L572.00,442.06 L572.10,442.24 L572.20,442.41 L572.30,442.57 L572.39,442.72 L572.49,442.85 L572.59,442.96 L572.69,443.05 L572.79,443.13 L572.89,443.19 L572.99,443.24 L573.09,443.29 L573.18,443.32 L573.28,443.34 L573.38,443.36 L573.48,443.37 L573.58,443.38 L573.68,443.39 L573.78,443.39 L573.88,443.39 L573.97,443.40 L574.07,443.40 L574.17,443.40 L574.27,443.40 L574.37,443.40 L574.47,443.40 L574.57,443.40 L574.66,443.40 L574.76,443.40 L574.86,443.40 L574.96,443.40 L575.06,443.40 L575.16,443.40 L575.26,443.40 L575.36,443.40 L575.45,443.40 L575.55,443.40 L575.65,443.40 L575.75,443.40 L575.85,443.40 L575.95,443.40 L576.05,443.40 L576.15,443.40 L576.25,443.40 L576.34,443.40 L576.44,443.40 L576.54,443.40 L576.64,443.40 L576.74,443.40 L576.84,443.40 L576.94,443.40 L577.04,443.40 L577.13,443.40 L577.23,443.40 L577.33,443.40 L577.43,443.40 L577.53,443.40 L577.63,443.40 L577.73,443.40 L577.83,443.40 L577.92,443.40 L578.02,443.40 L578.12,443.40 L578.22,443.40 L578.32,443.40 L578.42,443.40 L578.52,443.40 L578.62,443.40 L578.71,443.40 L578.81,443.40 L578.91,443.40 L579.01,443.40 L579.11,443.40 L579.21,443.40 L579.31,443.40 L579.41,443.40 L579.50,443.40 L579.60,443.40 L579.70,443.40 L579.80,443.40 L579.90,443.40 L580.00,443.40 L580.10,443.40 L580.20,443.40 L580.29,443.40 L580.39,443.40 L580.49,443.40 L580.59,443.40 L580.69,443.40 L580.79,443.40 L580.89,443.40 L580.99,443.40 L581.08,443.40 L581.18,443.40 L581.28,443.39 L581.38,443.39 L581.48,443.38 L581.58,443.36 L581.68,443.33 L581.77,443.29 L581.87,443.23 L581.97,443.14 L582.07,443.02 L582.17,442.86 L582.27,442.65 L582.37,442.39 L582.47,442.07 L582.56,441.70 L582.66,441.29 L582.76,440.85 L582.86,440.40 L582.96,439.97 L583.06,439.59 L583.16,439.27 L583.26,439.06 L583.36,438.96 L583.45,438.98 L583.55,439.12 L583.65,439.37 L583.75,439.71 L583.85,440.11 L583.95,440.55 L584.05,441.00 L584.14,441.43 L584.24,441.83 L584.34,442.19 L584.44,442.48 L584.54,442.73 L584.64,442.92 L584.74,443.07 L584.84,443.18 L584.93,443.25 L585.03,443.30 L585.13,443.34 L585.23,443.35 L585.33,443.36 L585.43,443.35 L585.53,443.33 L585.63,443.29 L585.73,443.23 L585.82,443.14 L585.92,443.00 L586.02,442.79 L586.12,442.52 L586.22,442.15 L586.32,441.67 L586.42,441.08 L586.52,440.38 L586.61,439.57 L586.71,438.67 L586.81,437.73 L586.91,436.78 L587.01,435.89 L587.11,435.11 L587.21,434.50 L587.31,434.10 L587.40,433.96 L587.50,434.07 L587.60,434.44 L587.70,435.02 L587.80,435.79 L587.90,436.67 L588.00,437.61 L588.10,438.56 L588.19,439.46 L588.29,440.29 L588.39,441.00 L588.49,441.61 L588.59,442.10 L588.69,442.48 L588.79,442.76 L588.88,442.97 L588.98,443.12 L589.08,443.22 L589.18,443.29 L589.28,443.34 L589.38,443.36 L589.48,443.38 L589.58,443.39 L589.67,443.39 L589.77,443.40 L589.87,443.40 L589.97,443.40 L590.07,443.40 L590.17,443.40 L590.27,443.40 L590.37,443.40 L590.47,443.40 L590.56,443.40 L590.66,443.40 L590.76,443.40 L590.86,443.40 L590.96,443.40 L591.06,443.40 L591.16,443.40 L591.25,443.40 L591.35,443.40 L591.45,443.40 L591.55,443.40 L591.65,443.40 L591.75,443.40 L591.85,443.40 L591.95,443.40 L592.05,443.40 L592.14,443.40 L592.24,443.40 L592.34,443.40 L592.44,443.40 L592.54,443.39 L592.64,443.39 L592.74,443.38 L592.84,443.36 L592.93,443.33 L593.03,443.28 L593.13,443.20 L593.23,443.07 L593.33,442.86 L593.43,442.56 L593.53,442.11 L593.62,441.48 L593.72,440.62 L593.82,439.49 L593.92,438.05 L594.02,436.28 L594.12,434.19 L594.22,431.80 L594.32,429.20 L594.41,426.49 L594.51,423.81 L594.61,421.33 L594.71,419.22 L594.81,417.63 L594.91,416.69 L595.01,416.47 L595.11,416.86 L595.20,417.77 L595.30,419.15 L595.40,420.92 L595.50,422.98 L595.60,425.22 L595.70,427.55 L595.80,429.86 L595.90,432.06 L596.00,434.10 L596.09,435.93 L596.19,437.52 L596.29,438.86 L596.39,439.97 L596.49,440.86 L596.59,441.56 L596.69,442.09 L596.79,442.49 L596.88,442.78 L596.98,442.98 L597.08,443.13 L597.18,443.22 L597.28,443.29 L597.38,443.33 L597.48,443.36 L597.58,443.38 L597.67,443.39 L597.77,443.39 L597.87,443.40 L597.97,443.40 L598.07,443.40 L598.17,443.40 L598.27,443.40 L598.37,443.40 L598.46,443.40 L598.56,443.40 L598.66,443.40 L598.76,443.40 L598.86,443.40 L598.96,443.40 L599.06,443.40 L599.16,443.40 L599.25,443.40 L599.35,443.40 L599.45,443.40 L599.55,443.40 L599.65,443.40 L599.75,443.40 L599.85,443.40 L599.95,443.40 L600.04,443.40 L600.14,443.40 L600.24,443.40 L600.34,443.40 L600.44,443.40 L600.54,443.40 L600.64,443.40 L600.74,443.40 L600.83,443.40 L600.93,443.40 L601.03,443.40 L601.13,443.40 L601.23,443.40 L601.33,443.40 L601.43,443.40 L601.52,443.40 L601.62,443.40 L601.72,443.40 L601.82,443.40 L601.92,443.40 L602.02,443.40 L602.12,443.40 L602.22,443.40 L602.31,443.40 L602.41,443.40 L602.51,443.40 L602.61,443.40 L602.71,443.40 L602.81,443.40 L602.91,443.40 L603.01,443.40 L603.11,443.40 L603.20,443.40 L603.30,443.40 L603.40,443.40 L603.50,443.40 L603.60,443.40 L603.70,443.40 L603.80,443.40 L603.89,443.40 L603.99,443.40 L604.09,443.40 L604.19,443.40 L604.29,443.40 L604.39,443.40 L604.49,443.40 L604.59,443.40 L604.68,443.40 L604.78,443.40 L604.88,443.40 L604.98,443.40 L605.08,443.40 L605.18,443.40 L605.28,443.40 L605.38,443.40 L605.48,443.40 L605.57,443.40 L605.67,443.40 L605.77,443.40 L605.87,443.40 L605.97,443.40 L606.07,443.40 L606.17,443.40 L606.27,443.40 L606.36,443.40 L606.46,443.40 L606.56,443.40 L606.66,443.40 L606.76,443.40 L606.86,443.40 L606.96,443.40 L607.06,443.40 L607.15,443.40 L607.25,443.40 L607.35,443.40 L607.45,443.40 L607.55,443.40 L607.65,443.40 L607.75,443.40 L607.85,443.40 L607.94,443.40 L608.04,443.40 L608.14,443.40 L608.24,443.40 L608.34,443.40 L608.44,443.40 L608.54,443.40 L608.63,443.40 L608.73,443.40 L608.83,443.40 L608.93,443.40 L609.03,443.40 L609.13,443.40 L609.23,443.40 L609.33,443.40 L609.42,443.40 L609.52,443.40 L609.62,443.40 L609.72,443.40 L609.82,443.40 L609.92,443.40 L610.02,443.40 L610.12,443.40 L610.22,443.40 L610.31,443.40 L610.41,443.40 L610.51,443.40 L610.61,443.40 L610.71,443.40 L610.81,443.40 L610.91,443.40 L611.00,443.40 L611.10,443.40 L611.20,443.40 L611.30,443.40 L611.40,443.40 L611.50,443.40 L611.60,443.40 L611.70,443.40 L611.80,443.40 L611.89,443.40 L611.99,443.40 L612.09,443.40 L612.19,443.40 L612.29,443.40 L612.39,443.40 L612.49,443.40 L612.59,443.40 L612.68,443.40 L612.78,443.40 L612.88,443.40 L612.98,443.40 L613.08,443.40 L613.18,443.40 L613.28,443.40 L613.38,443.40 L613.47,443.40 L613.57,443.40 L613.67,443.40 L613.77,443.40 L613.87,443.40 L613.97,443.40 L614.07,443.40 L614.16,443.40 L614.26,443.40 L614.36,443.40 L614.46,443.40 L614.56,443.40 L614.66,443.40 L614.76,443.40 L614.86,443.40 L614.95,443.40 L615.05,443.40 L615.15,443.40 L615.25,443.40 L615.35,443.40 L615.45,443.40 L615.55,443.40 L615.65,443.40 L615.75,443.40 L615.84,443.40 L615.94,443.40 L616.04,443.40 L616.14,443.40 L616.24,443.40 L616.34,443.40 L616.44,443.40 L616.54,443.40 L616.63,443.40 L616.73,443.40 L616.83,443.40 L616.93,443.40 L617.03,443.40 L617.12,443.23 L620.12,443.13 L621.62,442.64 L622.43,440.74 L622.94,438.24 L623.58,430.24 L624.27,408.24 L624.84,370.24 L625.97,340.24 L627.05,300.24 L628.10,265.24 L629.00,242.54 L629.12,262.24 L629.05,300.24 L629.07,340.24 L629.04,370.24 L629.43,395.24 L629.86,410.24 L630.11,422.24 L630.38,430.34 L630.81,422.24 L631.66,410.24 L632.25,390.25 L632.61,377.65 L632.85,390.25 L632.96,410.25 L633.68,428.25 L634.35,435.25 L635.04,437.85 L635.57,432.25 L636.16,410.25 L636.85,390.25 L637.54,370.25 L638.37,340.25 L638.65,300.25 L638.87,272.25 L639.15,300.25 L639.47,340.25 L639.54,370.25 L639.61,400.25 L639.82,420.25 L640.47,431.75 L640.72,420.25 L641.01,400.25 L641.34,370.25 L642.15,345.25 L642.72,330.25 L643.19,312.65 L643.32,330.25 L643.43,350.26 L643.40,380.26 L643.57,408.26 L643.88,430.26 L644.34,438.26 L645.13,440.46 L645.93,441.16 L651.13,441.86 L651.20,442.60 L651.30,442.60 L651.39,442.60 L651.49,442.61 L651.59,442.61 L651.69,442.62 L651.79,442.62 L651.89,442.62 L651.99,442.63 L652.09,442.63 L652.18,442.64 L652.28,442.64 L652.38,442.64 L652.48,442.65 L652.58,442.65 L652.68,442.65 L652.78,442.66 L652.88,442.66 L652.97,442.67 L653.07,442.67 L653.17,442.67 L653.27,442.68 L653.37,442.68 L653.47,442.68 L653.57,442.69 L653.66,442.69 L653.76,442.69 L653.86,442.70 L653.96,442.70 L654.06,442.70 L654.16,442.71 L654.26,442.71 L654.36,442.72 L654.45,442.72 L654.55,442.72 L654.65,442.73 L654.75,442.73 L654.85,442.73 L654.95,442.74 L655.05,442.74 L655.15,442.74 L655.24,442.75 L655.34,442.75 L655.44,442.75 L655.54,442.76 L655.64,442.76 L655.74,442.76 L655.84,442.76 L655.94,442.77 L656.04,442.77 L656.13,442.77 L656.23,442.78 L656.33,442.78 L656.43,442.78 L656.53,442.79 L656.63,442.79 L656.73,442.79 L656.83,442.80 L656.92,442.80 L657.02,442.80 L657.12,442.80 L657.22,442.81 L657.32,442.81 L657.42,442.81 L657.52,442.82 L657.62,442.82 L657.71,442.82 L657.81,442.83 L657.91,442.83 L658.01,442.83 L658.11,442.83 L658.21,442.84 L658.31,442.84 L658.40,442.84 L658.50,442.84 L658.60,442.85 L658.70,442.85 L658.80,442.85 L658.90,442.86 L659.00,442.86 L659.10,442.86 L659.20,442.86 L659.29,442.87 L659.39,442.87 L659.49,442.87 L659.59,442.87 L659.69,442.88 L659.79,442.88 L659.89,442.88 L659.99,442.88 L660.08,442.89 L660.18,442.89 L660.28,442.89 L660.38,442.90 L660.48,442.90 L660.58,442.90 L660.68,442.90 L660.77,442.91 L660.87,442.91 L660.97,442.91 L661.07,442.91 L661.17,442.91 L661.27,442.92 L661.37,442.92 L661.47,442.92 L661.57,442.92 L661.66,442.93 L661.76,442.93 L661.86,442.93 L661.96,442.93 L662.06,442.94 L662.16,442.94 L662.26,442.94 L662.36,442.94 L662.45,442.95 L662.55,442.95 L662.65,442.95 L662.75,442.95 L662.85,442.95 L662.95,442.96 L663.05,442.96 L663.14,442.96 L663.24,442.96 L663.34,442.97 L663.44,442.97 L663.54,442.97 L663.64,442.97 L663.74,442.97 L663.84,442.98 L663.93,442.98 L664.03,442.98 L664.13,442.98 L664.23,442.98 L664.33,442.99 L664.43,442.99 L664.53,442.99 L664.63,442.99 L664.73,442.99 L664.82,443.00 L664.92,443.00 L665.02,443.00 L665.12,443.00 L665.22,443.00 L665.32,443.01 L665.42,443.01 L665.52,443.01 L665.61,443.01 L665.71,443.01 L665.81,443.02 L665.91,443.02 L666.01,443.02 L666.11,443.02 L666.21,443.02 L666.31,443.03 L666.40,443.03 L666.50,443.03 L666.60,443.03 L666.70,443.03 L666.80,443.04 L666.90,443.04 L667.00,443.04 L667.10,443.04 L667.19,443.04 L667.29,443.04 L667.39,443.05 L667.49,443.05 L667.59,443.05 L667.69,443.05 L667.79,443.05 L667.88,443.05 L667.98,443.06 L668.08,443.06 L668.18,443.06 L668.28,443.06 L668.38,443.06 L668.48,443.06 L668.58,443.07 L668.67,443.07 L668.77,443.07 L668.87,443.07 L668.97,443.07 L669.07,443.07 L669.17,443.08 L669.27,443.08 L669.37,443.08 L669.47,443.08 L669.56,443.08 L669.66,443.08 L669.76,443.09 L669.86,443.09 L669.96,443.09 L670.06,443.09 L670.16,443.09 L670.25,443.09 L670.35,443.10 L670.45,443.10 L670.55,443.10 L670.65,443.10 L670.75,443.10 L670.85,443.10 L670.95,443.10 L671.05,443.11 L671.14,443.11 L671.24,443.11 L671.34,443.11 L671.44,443.11 L671.54,443.11 L671.64,443.11 L671.74,443.12 L671.84,443.12 L671.93,443.12 L672.03,443.12 L672.13,443.12 L672.23,443.12 L672.33,443.12 L672.43,443.13 L672.53,443.13 L672.62,443.13 L672.72,443.13 L672.82,443.13 L672.92,443.13 L673.02,443.13 L673.12,443.14 L673.22,443.14 L673.32,443.14 L673.41,443.14 L673.51,443.14 L673.61,443.14 L673.71,443.14 L673.81,443.14 L673.91,443.15 L674.01,443.15 L674.11,443.15 L674.20,443.15 L674.30,443.15 L674.40,443.15 L674.50,443.15 L674.60,443.15 L674.70,443.16 L674.80,443.16 L674.90,443.16 L674.99,443.16 L675.09,443.16 L675.19,443.16 L675.29,443.16 L675.39,443.16 L675.49,443.17 L675.59,443.17 L675.69,443.17 L675.79,443.17 L675.88,443.17 L675.98,443.17 L676.08,443.17 L676.18,443.17 L676.28,443.17 L676.38,443.18 L676.48,443.18 L676.58,443.18 L676.67,443.18 L676.77,443.18 L676.87,443.18 L676.97,443.18 L677.07,443.18 L677.17,443.18 L677.27,443.19 L677.37,443.19 L677.46,443.19 L677.56,443.19 L677.66,443.19 L677.76,443.19 L677.86,443.19 L677.96,443.19 L678.06,443.19 L678.15,443.19 L678.25,443.20 L678.35,443.20 L678.45,443.20 L678.55,443.20 L678.65,443.20 L678.75,443.20 L678.85,443.20 L678.95,443.20 L679.04,443.20 L679.14,443.20 L679.24,443.21 L679.34,443.21 L679.44,443.21 L679.54,443.21 L679.64,443.21 L679.74,443.21 L679.83,443.21 L679.93,443.21 L680.03,443.21 L680.13,443.21 L680.23,443.22 L680.33,443.22 L680.43,443.22 L680.52,443.22 L680.62,443.22 L680.72,443.22 L680.82,443.22 L680.92,443.22 L681.02,443.22 L681.12,443.22 L681.22,443.22 L681.32,443.23 L681.41,443.23 L681.51,443.23 L681.61,443.23 L681.71,443.23 L681.81,443.23 L681.91,443.23 L682.01,443.23 L682.11,443.23 L682.20,443.23 L682.30,443.23 L682.40,443.23 L682.50,443.24 L682.60,443.24 L682.70,443.24 L682.80,443.24 L682.89,443.24 L682.99,443.24 L683.09,443.24 L683.19,443.24 L683.29,443.24 L683.39,443.24 L683.49,443.24 L683.59,443.24 L683.68,443.24 L683.78,443.25 L683.88,443.25 L683.98,443.25 L684.08,443.25 L684.18,443.25 L684.28,443.25 L684.38,443.25 L684.48,443.25 L684.57,443.25 L684.67,443.25 L684.77,443.25 L684.87,443.25 L684.97,443.25 L685.07,443.26 L685.17,443.26 L685.27,443.26 L685.36,443.26 L685.46,443.26 L685.56,443.26 L685.66,443.26 L685.76,443.26 L685.86,443.26 L685.96,443.26 L686.06,443.26 L686.15,443.26 L686.25,443.26 L686.35,443.26 L686.45,443.27 L686.55,443.27 L686.65,443.27 L686.75,443.27 L686.85,443.27 L686.94,443.27 L687.04,443.27 L687.14,443.27 L687.24,443.27 L687.34,443.27 L687.44,443.27 L687.54,443.27 L687.63,443.27 L687.73,443.27 L687.83,443.27 L687.93,443.27 L688.03,443.28 L688.13,443.28 L688.23,443.28 L688.33,443.28 L688.42,443.28 L688.52,443.28 L688.62,443.28 L688.72,443.28 L688.82,443.28 L688.92,443.28 L689.02,443.28 L689.12,443.28 L689.22,443.28 L689.31,443.28 L689.41,443.28 L689.51,443.28 L689.61,443.29 L689.71,443.29 L689.81,443.29 L689.91,443.29 L690.00,443.29 L690.10,443.29 L690.20,443.29 L690.30,443.29 L690.40,443.29 L690.50,443.29 L690.60,443.29 L690.70,443.29 L690.80,443.29 L690.89,443.29 L690.99,443.29 L691.09,443.29 L691.19,443.29 L691.29,443.29 L691.39,443.29 L691.49,443.30 L691.59,443.30 L691.68,443.30 L691.78,443.30 L691.88,443.30 L691.98,443.30 L692.08,443.30 L692.18,443.30 L692.28,443.30 L692.38,443.30 L692.47,443.30 L692.57,443.30 L692.67,443.30 L692.77,443.30 L692.87,443.30 L692.97,443.30 L693.07,443.30 L693.16,443.30 L693.26,443.30 L693.36,443.30 L693.46,443.31 L693.56,443.31 L693.66,443.31 L693.76,443.31 L693.86,443.31 L693.95,443.31 L694.05,443.31 L694.15,443.31 L694.25,443.31 L694.35,443.31 L694.45,443.31 L694.55,443.31 L694.65,443.31 L694.74,443.31 L694.84,443.31 L694.94,443.31" fill="none" stroke="#1e1e1e" stroke-width="1.0" stroke-linejoin="round" />
<text x="478.36" y="344.01" font-size="9.4" text-anchor="start" letter-spacing="-0.45" stroke-width="0.42" >Rib</text>
<line x1="485.63" y1="348.91" x2="491.39" y2="358.22" stroke="#0a0a0a" stroke-width="1.8" />
<text x="503.43" y="373.63" font-size="9.4" text-anchor="start" letter-spacing="-0.45" stroke-width="0.42" >Ara</text>
<line x1="510.81" y1="377.34" x2="502.57" y2="385.53" stroke="#0a0a0a" stroke-width="1.8" />
<text x="515.72" y="397.44" font-size="9.4" text-anchor="start" letter-spacing="-0.45" stroke-width="0.42" >Xil</text>
<line x1="520.61" y1="400.34" x2="514.38" y2="406.54" stroke="#0a0a0a" stroke-width="1.8" />
<text x="602.46" y="252.52" font-size="9.4" text-anchor="start" letter-spacing="-0.45" stroke-width="0.42" >Ino</text>
<line x1="611.84" y1="255.63" x2="624.60" y2="264.84" stroke="#0a0a0a" stroke-width="1.8" />
<text x="635.93" y="259.35" font-size="9.4" text-anchor="start" letter-spacing="-0.45" stroke-width="0.42" >Glc</text>
<line x1="645.11" y1="262.36" x2="640.59" y2="268.55" stroke="#0a0a0a" stroke-width="1.8" />
<text x="641.94" y="302.95" font-size="9.4" text-anchor="start" letter-spacing="-0.45" stroke-width="0.42" >Gal</text>
<line x1="650.12" y1="306.26" x2="645.37" y2="317.16" stroke="#0a0a0a" stroke-width="1.8" />
<text x="596.52" y="352.31" font-size="9.4" text-anchor="start" letter-spacing="-0.45" stroke-width="0.42" >Man</text>
<line x1="607.00" y1="355.72" x2="631.93" y2="372.24" stroke="#0a0a0a" stroke-width="1.8" />
</g>
</svg>
</body></html>
